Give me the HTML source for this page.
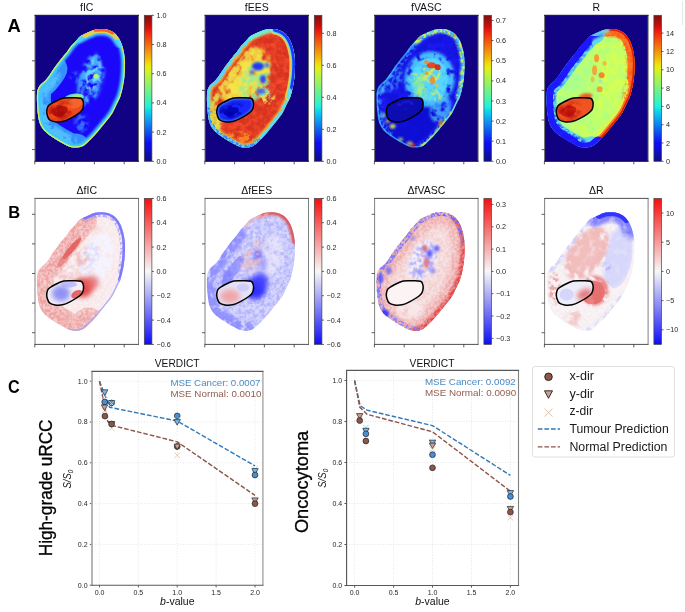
<!DOCTYPE html><html><head><meta charset="utf-8"><style>html,body{margin:0;padding:0;background:#fff;}svg{display:block;filter:blur(0.35px);}</style></head><body>
<svg width="685" height="612" viewBox="0 0 685 612" font-family='"Liberation Sans", sans-serif'>
<defs>
<path id="kid" d="M60.9,14.1 C63.6,13.7 68.0,13.6 70.7,14.0 C73.5,14.4 75.5,15.4 77.4,16.5 C79.3,17.6 80.7,18.9 82.0,20.5 C83.3,22.1 84.5,23.8 85.5,26.0 C86.5,28.2 87.6,31.2 88.3,34.0 C89.0,36.8 89.5,40.0 89.8,43.0 C90.1,46.0 90.1,48.8 90.0,52.0 C89.9,55.2 89.8,58.7 89.4,62.0 C89.0,65.3 88.5,68.8 87.8,72.0 C87.1,75.2 86.5,78.1 85.5,81.0 C84.5,83.9 82.8,86.7 81.5,89.5 C80.2,92.3 79.0,95.3 77.4,97.9 C75.8,100.5 73.8,102.8 71.9,105.2 C70.0,107.7 67.8,110.1 65.8,112.6 C63.8,115.0 61.8,117.7 59.7,119.9 C57.7,122.2 55.5,124.2 53.5,126.1 C51.5,127.9 49.6,130.0 47.5,131.0 C45.4,132.0 43.2,132.2 41.0,132.3 C38.8,132.4 36.7,132.1 34.5,131.4 C32.3,130.7 30.0,129.2 27.6,127.9 C25.2,126.6 22.6,125.1 20.2,123.6 C17.8,122.1 15.0,120.3 13.0,118.7 C11.0,117.1 9.4,115.8 8.0,113.8 C6.5,111.8 5.2,109.6 4.3,106.5 C3.4,103.4 2.9,98.9 2.5,95.0 C2.1,91.1 1.9,86.4 1.9,83.0 C1.9,79.6 2.0,76.8 2.6,74.5 C3.2,72.2 4.3,71.0 5.5,69.5 C6.7,68.0 8.6,67.0 10.0,65.5 C11.4,64.0 12.6,62.4 14.0,60.5 C15.4,58.6 17.0,55.9 18.4,53.9 C19.8,51.9 21.0,50.3 22.5,48.3 C24.0,46.3 26.0,43.7 27.6,41.7 C29.2,39.7 30.6,38.3 32.0,36.5 C33.4,34.7 34.6,32.5 36.0,30.8 C37.4,29.1 38.9,27.9 40.4,26.3 C41.9,24.7 43.4,22.5 45.0,21.2 C46.6,19.9 48.4,19.3 50.0,18.5 C51.6,17.7 52.7,17.2 54.5,16.5 C56.3,15.8 58.2,14.5 60.9,14.1Z"/>
<path id="roi" d="M11.7,96.0 C11.8,94.5 12.2,92.3 13.0,91.0 C13.8,89.7 14.8,89.2 16.6,88.1 C18.4,87.0 21.9,85.3 23.9,84.4 C25.9,83.5 26.8,82.9 28.8,82.6 C30.9,82.3 33.3,82.4 36.2,82.4 C39.1,82.5 44.0,82.1 46.0,82.9 C48.0,83.7 48.0,85.5 48.4,87.0 C48.8,88.5 48.5,90.6 48.2,92.0 C47.9,93.4 47.5,94.3 46.5,95.5 C45.5,96.7 44.2,97.8 42.3,99.1 C40.4,100.4 37.3,102.2 34.9,103.4 C32.5,104.6 30.1,105.8 27.6,106.3 C25.1,106.8 22.2,106.8 20.0,106.5 C17.8,106.2 15.8,105.6 14.5,104.5 C13.2,103.4 12.8,101.4 12.3,100.0 C11.8,98.6 11.6,97.5 11.7,96.0Z"/>
<clipPath id="kc"><use href="#kid"/></clipPath>
<clipPath id="rc"><use href="#roi"/></clipPath>
<clipPath id="hc"><rect x="0" y="0" width="103.5" height="146"/></clipPath>
<filter id="b0_8" x="-50%" y="-50%" width="200%" height="200%"><feGaussianBlur stdDeviation="0.8"/></filter>
<filter id="b1_2" x="-50%" y="-50%" width="200%" height="200%"><feGaussianBlur stdDeviation="1.2"/></filter>
<filter id="b1_8" x="-50%" y="-50%" width="200%" height="200%"><feGaussianBlur stdDeviation="1.8"/></filter>
<filter id="b2_5" x="-50%" y="-50%" width="200%" height="200%"><feGaussianBlur stdDeviation="2.5"/></filter>
<filter id="b3_5" x="-50%" y="-50%" width="200%" height="200%"><feGaussianBlur stdDeviation="3.5"/></filter>
<filter id="b5" x="-50%" y="-50%" width="200%" height="200%"><feGaussianBlur stdDeviation="5"/></filter>
<filter id="n1" x="-20%" y="-20%" width="140%" height="140%"><feGaussianBlur in="SourceGraphic" stdDeviation="1.5" result="b"/><feTurbulence type="fractalNoise" baseFrequency="0.12" numOctaves="3" seed="3" result="t"/><feColorMatrix in="t" type="matrix" values="0 0 0 0 0  0 0 0 0 0  0 0 0 0 0  5 0 0 0 -2.0" result="m"/><feComposite in="b" in2="m" operator="in"/></filter>
<filter id="n2" x="-20%" y="-20%" width="140%" height="140%"><feGaussianBlur in="SourceGraphic" stdDeviation="1.0" result="b"/><feTurbulence type="fractalNoise" baseFrequency="0.18" numOctaves="3" seed="7" result="t"/><feColorMatrix in="t" type="matrix" values="0 0 0 0 0  0 0 0 0 0  0 0 0 0 0  6 0 0 0 -2.6" result="m"/><feComposite in="b" in2="m" operator="in"/></filter>
<filter id="n3" x="-20%" y="-20%" width="140%" height="140%"><feGaussianBlur in="SourceGraphic" stdDeviation="2.0" result="b"/><feTurbulence type="fractalNoise" baseFrequency="0.14" numOctaves="3" seed="11" result="t"/><feColorMatrix in="t" type="matrix" values="0 0 0 0 0  0 0 0 0 0  0 0 0 0 0  5 0 0 0 -2.0" result="m"/><feComposite in="b" in2="m" operator="in"/></filter>
<filter id="n4" x="-20%" y="-20%" width="140%" height="140%"><feGaussianBlur in="SourceGraphic" stdDeviation="0.8" result="b"/><feTurbulence type="fractalNoise" baseFrequency="0.25" numOctaves="3" seed="5" result="t"/><feColorMatrix in="t" type="matrix" values="0 0 0 0 0  0 0 0 0 0  0 0 0 0 0  6 0 0 0 -2.6" result="m"/><feComposite in="b" in2="m" operator="in"/></filter>
<filter id="n5" x="-20%" y="-20%" width="140%" height="140%"><feGaussianBlur in="SourceGraphic" stdDeviation="0.6" result="b"/><feTurbulence type="fractalNoise" baseFrequency="0.35" numOctaves="3" seed="9" result="t"/><feColorMatrix in="t" type="matrix" values="0 0 0 0 0  0 0 0 0 0  0 0 0 0 0  5 0 0 0 -2.0" result="m"/><feComposite in="b" in2="m" operator="in"/></filter>
<filter id="n6" x="-20%" y="-20%" width="140%" height="140%"><feGaussianBlur in="SourceGraphic" stdDeviation="1.5" result="b"/><feTurbulence type="fractalNoise" baseFrequency="0.14" numOctaves="3" seed="13" result="t"/><feColorMatrix in="t" type="matrix" values="0 0 0 0 0  0 0 0 0 0  0 0 0 0 0  5 0 0 0 -1.5" result="m"/><feComposite in="b" in2="m" operator="in"/></filter>
<filter id="n7" x="-20%" y="-20%" width="140%" height="140%"><feGaussianBlur in="SourceGraphic" stdDeviation="1.0" result="b"/><feTurbulence type="fractalNoise" baseFrequency="0.22" numOctaves="3" seed="17" result="t"/><feColorMatrix in="t" type="matrix" values="0 0 0 0 0  0 0 0 0 0  0 0 0 0 0  5 0 0 0 -1.5" result="m"/><feComposite in="b" in2="m" operator="in"/></filter>
<linearGradient id="gjet" x1="0" y1="1" x2="0" y2="0">
<stop offset="0.000" stop-color="#0d0d80"/>
<stop offset="0.025" stop-color="#0d0d99"/>
<stop offset="0.050" stop-color="#0d0db3"/>
<stop offset="0.075" stop-color="#0d0dcd"/>
<stop offset="0.100" stop-color="#0d0de8"/>
<stop offset="0.125" stop-color="#0d0df2"/>
<stop offset="0.150" stop-color="#0d23f2"/>
<stop offset="0.175" stop-color="#0d3bf2"/>
<stop offset="0.200" stop-color="#0d52f2"/>
<stop offset="0.225" stop-color="#0d69f2"/>
<stop offset="0.250" stop-color="#0d80f2"/>
<stop offset="0.275" stop-color="#0d97f2"/>
<stop offset="0.300" stop-color="#0dadf2"/>
<stop offset="0.325" stop-color="#0dc4f2"/>
<stop offset="0.350" stop-color="#0ddbeb"/>
<stop offset="0.375" stop-color="#20f2d8"/>
<stop offset="0.400" stop-color="#32f2c6"/>
<stop offset="0.425" stop-color="#45f2b3"/>
<stop offset="0.450" stop-color="#57f2a1"/>
<stop offset="0.475" stop-color="#6af28e"/>
<stop offset="0.500" stop-color="#7cf27c"/>
<stop offset="0.525" stop-color="#8ef26a"/>
<stop offset="0.550" stop-color="#a1f257"/>
<stop offset="0.575" stop-color="#b3f245"/>
<stop offset="0.600" stop-color="#c6f232"/>
<stop offset="0.625" stop-color="#d8f220"/>
<stop offset="0.650" stop-color="#ebea0d"/>
<stop offset="0.675" stop-color="#f2d50d"/>
<stop offset="0.700" stop-color="#f2bf0d"/>
<stop offset="0.725" stop-color="#f2aa0d"/>
<stop offset="0.750" stop-color="#f2950d"/>
<stop offset="0.775" stop-color="#f2800d"/>
<stop offset="0.800" stop-color="#f26a0d"/>
<stop offset="0.825" stop-color="#f2550d"/>
<stop offset="0.850" stop-color="#f2400d"/>
<stop offset="0.875" stop-color="#f22a0d"/>
<stop offset="0.900" stop-color="#e8150d"/>
<stop offset="0.925" stop-color="#cd0d0d"/>
<stop offset="0.950" stop-color="#b30d0d"/>
<stop offset="0.975" stop-color="#990d0d"/>
<stop offset="1.000" stop-color="#800d0d"/>
</linearGradient>
<linearGradient id="gbwr" x1="0" y1="1" x2="0" y2="0">
<stop offset="0.000" stop-color="#0d0df7"/>
<stop offset="0.050" stop-color="#2525f7"/>
<stop offset="0.100" stop-color="#3c3cf7"/>
<stop offset="0.150" stop-color="#5353f7"/>
<stop offset="0.200" stop-color="#6b6bf7"/>
<stop offset="0.250" stop-color="#8383f7"/>
<stop offset="0.300" stop-color="#9a9af7"/>
<stop offset="0.350" stop-color="#b1b1f7"/>
<stop offset="0.400" stop-color="#c8c8f7"/>
<stop offset="0.450" stop-color="#e0e0f7"/>
<stop offset="0.500" stop-color="#f7f7f7"/>
<stop offset="0.550" stop-color="#f7dfdf"/>
<stop offset="0.600" stop-color="#f7c8c8"/>
<stop offset="0.650" stop-color="#f7b1b1"/>
<stop offset="0.700" stop-color="#f79a9a"/>
<stop offset="0.750" stop-color="#f78383"/>
<stop offset="0.800" stop-color="#f76b6b"/>
<stop offset="0.850" stop-color="#f75454"/>
<stop offset="0.900" stop-color="#f73c3c"/>
<stop offset="0.950" stop-color="#f72525"/>
<stop offset="1.000" stop-color="#f70d0d"/>
</linearGradient>
</defs>
<rect width="685" height="612" fill="#fff"/>
<g transform="translate(35,15.3)">
<g clip-path="url(#hc)">
<rect width="103.5" height="146" fill="#100282"/>
<g clip-path="url(#kc)">
<use href="#kid" fill="#1c08f8"/>
<path d="M41.0,132.3 C38.8,132.4 36.7,132.1 34.5,131.4 C32.3,130.7 30.0,129.2 27.6,127.9 C25.2,126.6 22.6,125.1 20.2,123.6 C17.8,122.1 15.0,120.3 13.0,118.7 C11.0,117.1 9.4,115.8 8.0,113.8 C6.5,111.8 5.2,109.6 4.3,106.5 C3.4,103.4 2.9,98.9 2.5,95.0 C2.1,91.1 1.9,86.4 1.9,83.0 C1.9,79.6 2.0,76.8 2.6,74.5 C3.2,72.2 4.3,71.0 5.5,69.5 C6.7,68.0 8.6,67.0 10.0,65.5 C11.4,64.0 12.6,62.4 14.0,60.5 C15.4,58.6 17.0,55.9 18.4,53.9" fill="none" stroke="#3aa8ff" stroke-width="28" stroke-linecap="round" opacity="0.85" filter="url(#b3)"/>
<path d="M34.5,131.4 C32.3,130.7 30.0,129.2 27.6,127.9 C25.2,126.6 22.6,125.1 20.2,123.6 C17.8,122.1 15.0,120.3 13.0,118.7 C11.0,117.1 9.4,115.8 8.0,113.8 C6.5,111.8 5.2,109.6 4.3,106.5 C3.4,103.4 2.9,98.9 2.5,95.0 C2.1,91.1 1.9,86.4 1.9,83.0 C1.9,79.6 2.0,76.8 2.6,74.5 C3.2,72.2 4.3,71.0 5.5,69.5 C6.7,68.0 8.6,67.0 10.0,65.5 C11.4,64.0 12.6,62.4 14.0,60.5" fill="none" stroke="#58c8ff" stroke-width="22" stroke-linecap="round" opacity="0.85" filter="url(#n6)"/>
<path d="M27.6,127.9 C25.2,126.6 22.6,125.1 20.2,123.6 C17.8,122.1 15.0,120.3 13.0,118.7 C11.0,117.1 9.4,115.8 8.0,113.8 C6.5,111.8 5.2,109.6 4.3,106.5 C3.4,103.4 2.9,98.9 2.5,95.0 C2.1,91.1 1.9,86.4 1.9,83.0 C1.9,79.6 2.0,76.8 2.6,74.5 C3.2,72.2 4.3,71.0 5.5,69.5 C6.7,68.0 8.6,67.0 10.0,65.5" fill="none" stroke="#60d8ff" stroke-width="10" stroke-linecap="round" opacity="0.7" filter="url(#b1_5)"/>
<use href="#kid" fill="none" stroke="#34b4ff" stroke-width="8" opacity="0.95" filter="url(#b1_2)"/>
<use href="#kid" fill="none" stroke="#60f0d0" stroke-width="4" opacity="0.8" filter="url(#b0_8)"/>
<use href="#kid" fill="none" stroke="#e8f040" stroke-width="2.2" opacity="0.9" filter="url(#b0_5)"/>
<path d="M45.0,21.2 C46.6,19.9 48.4,19.3 50.0,18.5 C51.6,17.7 52.7,17.2 54.5,16.5 C56.3,15.8 58.2,14.5 60.9,14.1 C63.6,13.7 68.0,13.6 70.7,14.0 C73.5,14.4 75.5,15.4 77.4,16.5 C79.3,17.6 80.7,18.9 82.0,20.5 C83.3,22.1 84.5,23.8 85.5,26.0" fill="none" stroke="#50d8ff" stroke-width="13" stroke-linecap="round" opacity="0.85" filter="url(#b1_2)"/>
<path d="M50.0,18.5 C51.6,17.7 52.7,17.2 54.5,16.5 C56.3,15.8 58.2,14.5 60.9,14.1 C63.6,13.7 68.0,13.6 70.7,14.0 C73.5,14.4 75.5,15.4 77.4,16.5 C79.3,17.6 80.7,18.9 82.0,20.5" fill="none" stroke="#f0d040" stroke-width="8" stroke-linecap="round" opacity="0.9" filter="url(#b1_0)"/>
<path d="M60.9,14.1 C63.6,13.7 68.0,13.6 70.7,14.0 C73.5,14.4 75.5,15.4 77.4,16.5" fill="none" stroke="#ff5018" stroke-width="5" stroke-linecap="round" opacity="0.85" filter="url(#b1_0)"/>
<ellipse cx="56" cy="64" rx="12" ry="27" fill="#44a8ff" opacity="1" filter="url(#n1)" transform="rotate(15 56 64)"/>
<ellipse cx="58" cy="60" rx="8" ry="18" fill="#68dcff" opacity="0.95" filter="url(#n2)" transform="rotate(15 58 60)"/>
<ellipse cx="42" cy="62" rx="6" ry="5" fill="#3a9cff" opacity="0.8" filter="url(#n3)" transform="rotate(0 42 62)"/>
<ellipse cx="61" cy="61" rx="2.5" ry="2.5" fill="#c0ff60" opacity="0.9" filter="url(#b1)" transform="rotate(0 61 61)"/>
<ellipse cx="46" cy="108" rx="6" ry="10" fill="#3890ff" opacity="0.8" filter="url(#n3)" transform="rotate(0 46 108)"/>
<ellipse cx="39" cy="82.5" rx="10" ry="4" fill="#60e8e0" opacity="0.95" filter="url(#b1_5)" transform="rotate(-8 39 82.5)"/>
<ellipse cx="42" cy="82" rx="5" ry="2.5" fill="#d0f050" opacity="0.9" filter="url(#b1_2)" transform="rotate(-8 42 82)"/>
</g>
<g clip-path="url(#rc)">
<use href="#roi" fill="#f04a1c"/>
<ellipse cx="40" cy="88" rx="8" ry="5" fill="#f86a30" opacity="0.8" filter="url(#b2)" transform="rotate(-20 40 88)"/>
<ellipse cx="25" cy="96" rx="12" ry="8" fill="#a80808" opacity="0.95" filter="url(#n3)" transform="rotate(-20 25 96)"/>
<ellipse cx="25" cy="96" rx="8" ry="5" fill="#a80808" opacity="0.8" filter="url(#b2)" transform="rotate(-20 25 96)"/>
</g>
</g>
<use href="#roi" fill="none" stroke="#000" stroke-width="1.5"/>
<line x1="0" y1="0" x2="0" y2="146" stroke="#6c6c68" stroke-width="1"/>
<line x1="103.5" y1="0" x2="103.5" y2="146" stroke="#6c6c68" stroke-width="1"/>
<line x1="-0.5" y1="0" x2="104.0" y2="0" stroke="#0a0630" stroke-width="1"/>
<line x1="-0.5" y1="146" x2="104.0" y2="146" stroke="#0a0630" stroke-width="1"/>
<line x1="-3" y1="15.9" x2="0" y2="15.9" stroke="#333" stroke-width="0.8"/>
<line x1="-3" y1="45.5" x2="0" y2="45.5" stroke="#333" stroke-width="0.8"/>
<line x1="-3" y1="75.1" x2="0" y2="75.1" stroke="#333" stroke-width="0.8"/>
<line x1="-3" y1="104.7" x2="0" y2="104.7" stroke="#333" stroke-width="0.8"/>
<line x1="-3" y1="134.3" x2="0" y2="134.3" stroke="#333" stroke-width="0.8"/>
<line x1="-0.2" y1="146" x2="-0.2" y2="149" stroke="#333" stroke-width="0.8"/>
<line x1="29.6" y1="146" x2="29.6" y2="149" stroke="#333" stroke-width="0.8"/>
<line x1="59.4" y1="146" x2="59.4" y2="149" stroke="#333" stroke-width="0.8"/>
<line x1="89.2" y1="146" x2="89.2" y2="149" stroke="#333" stroke-width="0.8"/>
<text x="51.75" y="-4.1" font-size="10.5" text-anchor="middle" fill="#111">fIC</text>
<rect x="109.3" y="0" width="7.6" height="146" fill="url(#gjet)" stroke="#444" stroke-width="0.7"/>
<line x1="116.89999999999999" y1="146.0" x2="118.89999999999999" y2="146.0" stroke="#333" stroke-width="0.8"/>
<text x="121.49999999999999" y="148.6" font-size="7.2" fill="#262626">0.0</text>
<line x1="116.89999999999999" y1="116.8" x2="118.89999999999999" y2="116.8" stroke="#333" stroke-width="0.8"/>
<text x="121.49999999999999" y="119.4" font-size="7.2" fill="#262626">0.2</text>
<line x1="116.89999999999999" y1="87.6" x2="118.89999999999999" y2="87.6" stroke="#333" stroke-width="0.8"/>
<text x="121.49999999999999" y="90.2" font-size="7.2" fill="#262626">0.4</text>
<line x1="116.89999999999999" y1="58.4" x2="118.89999999999999" y2="58.4" stroke="#333" stroke-width="0.8"/>
<text x="121.49999999999999" y="61.0" font-size="7.2" fill="#262626">0.6</text>
<line x1="116.89999999999999" y1="29.2" x2="118.89999999999999" y2="29.2" stroke="#333" stroke-width="0.8"/>
<text x="121.49999999999999" y="31.8" font-size="7.2" fill="#262626">0.8</text>
<line x1="116.89999999999999" y1="0.0" x2="118.89999999999999" y2="0.0" stroke="#333" stroke-width="0.8"/>
<text x="121.49999999999999" y="2.6" font-size="7.2" fill="#262626">1.0</text>
</g>
<g transform="translate(205,15.3)">
<g clip-path="url(#hc)">
<rect width="103.5" height="146" fill="#100282"/>
<g clip-path="url(#kc)">
<use href="#kid" fill="#e83c28"/>
<use href="#kid" fill="#f87030" opacity="0.3" filter="url(#n4)"/>
<use href="#kid" fill="#c02018" opacity="0.4" filter="url(#n3)"/>
<ellipse cx="38" cy="60" rx="22" ry="32" fill="#f2e64a" opacity="0.85" filter="url(#n6)" transform="rotate(35 38 60)"/>
<ellipse cx="44" cy="62" rx="19" ry="30" fill="#f2e64a" opacity="0.95" filter="url(#n1)" transform="rotate(30 44 62)"/>
<ellipse cx="44" cy="64" rx="12" ry="22" fill="#f2e64a" opacity="0.7" filter="url(#b4)" transform="rotate(30 44 64)"/>
<ellipse cx="20" cy="60" rx="8" ry="15" fill="#f2e04a" opacity="0.9" filter="url(#n3)" transform="rotate(35 20 60)"/>
<ellipse cx="12" cy="95" rx="7" ry="18" fill="#e0e850" opacity="0.85" filter="url(#n1)" transform="rotate(0 12 95)"/>
<ellipse cx="10" cy="104" rx="8" ry="16" fill="#e0e850" opacity="0.75" filter="url(#n6)" transform="rotate(0 10 104)"/>
<path d="M10.0,65.5 C11.4,64.0 12.6,62.4 14.0,60.5 C15.4,58.6 17.0,55.9 18.4,53.9 C19.8,51.9 21.0,50.3 22.5,48.3 C24.0,46.3 26.0,43.7 27.6,41.7 C29.2,39.7 30.6,38.3 32.0,36.5 C33.4,34.7 34.6,32.5 36.0,30.8 C37.4,29.1 38.9,27.9 40.4,26.3 C41.9,24.7 43.4,22.5 45.0,21.2 C46.6,19.9 48.4,19.3 50.0,18.5" fill="none" stroke="#e83c28" stroke-width="14" stroke-linecap="round" opacity="0.8" filter="url(#b1_5)"/>
<path d="M10.0,65.5 C11.4,64.0 12.6,62.4 14.0,60.5 C15.4,58.6 17.0,55.9 18.4,53.9 C19.8,51.9 21.0,50.3 22.5,48.3 C24.0,46.3 26.0,43.7 27.6,41.7 C29.2,39.7 30.6,38.3 32.0,36.5 C33.4,34.7 34.6,32.5 36.0,30.8 C37.4,29.1 38.9,27.9 40.4,26.3 C41.9,24.7 43.4,22.5 45.0,21.2 C46.6,19.9 48.4,19.3 50.0,18.5" fill="none" stroke="#d83020" stroke-width="16" stroke-linecap="round" opacity="0.5" filter="url(#n4)"/>
<ellipse cx="62" cy="82" rx="8" ry="7" fill="#f0ec50" opacity="0.9" filter="url(#n2)" transform="rotate(0 62 82)"/>
<ellipse cx="50" cy="66" rx="14" ry="22" fill="#7ef0b0" opacity="0.75" filter="url(#n2)" transform="rotate(25 50 66)"/>
<ellipse cx="60" cy="78" rx="6" ry="6" fill="#70f0e0" opacity="0.8" filter="url(#n4)" transform="rotate(0 60 78)"/>
<ellipse cx="53" cy="51" rx="6" ry="4" fill="#1830ff" opacity="0.95" filter="url(#b1_2)" transform="rotate(0 53 51)"/>
<ellipse cx="58" cy="64" rx="3" ry="4" fill="#2038ff" opacity="0.9" filter="url(#b1_2)" transform="rotate(0 58 64)"/>
<ellipse cx="56" cy="76" rx="4" ry="3" fill="#3060ff" opacity="0.8" filter="url(#b1_2)" transform="rotate(0 56 76)"/>
<ellipse cx="47" cy="57" rx="2.5" ry="2.5" fill="#3050ff" opacity="0.7" filter="url(#b1_2)" transform="rotate(0 47 57)"/>
<ellipse cx="62" cy="50" rx="2.5" ry="2.5" fill="#3050ff" opacity="0.7" filter="url(#b1_2)" transform="rotate(0 62 50)"/>
<ellipse cx="35" cy="122" rx="14" ry="6" fill="#ffa028" opacity="0.7" filter="url(#n2)" transform="rotate(0 35 122)"/>
<use href="#kid" fill="none" stroke="#f0e040" stroke-width="9" opacity="0.75" filter="url(#b0_8)"/>
<use href="#kid" fill="none" stroke="#50e0ff" stroke-width="7" opacity="0.9" filter="url(#n5)"/>
<use href="#kid" fill="none" stroke="#50e0ff" stroke-width="4" opacity="0.95" filter="url(#b0_6)"/>
<path d="M70.7,14.0 C73.5,14.4 75.5,15.4 77.4,16.5 C79.3,17.6 80.7,18.9 82.0,20.5 C83.3,22.1 84.5,23.8 85.5,26.0 C86.5,28.2 87.6,31.2 88.3,34.0 C89.0,36.8 89.5,40.0 89.8,43.0 C90.1,46.0 90.1,48.8 90.0,52.0 C89.9,55.2 89.8,58.7 89.4,62.0 C89.0,65.3 88.5,68.8 87.8,72.0 C87.1,75.2 86.5,78.1 85.5,81.0" fill="none" stroke="#f0e040" stroke-width="11" stroke-linecap="round" opacity="0.8" filter="url(#b0_7)"/>
<path d="M70.7,14.0 C73.5,14.4 75.5,15.4 77.4,16.5 C79.3,17.6 80.7,18.9 82.0,20.5 C83.3,22.1 84.5,23.8 85.5,26.0 C86.5,28.2 87.6,31.2 88.3,34.0 C89.0,36.8 89.5,40.0 89.8,43.0 C90.1,46.0 90.1,48.8 90.0,52.0 C89.9,55.2 89.8,58.7 89.4,62.0 C89.0,65.3 88.5,68.8 87.8,72.0 C87.1,75.2 86.5,78.1 85.5,81.0" fill="none" stroke="#50e0ff" stroke-width="8" stroke-linecap="round" opacity="0.9" filter="url(#b0_6)"/>
<path d="M70.7,14.0 C73.5,14.4 75.5,15.4 77.4,16.5 C79.3,17.6 80.7,18.9 82.0,20.5 C83.3,22.1 84.5,23.8 85.5,26.0 C86.5,28.2 87.6,31.2 88.3,34.0 C89.0,36.8 89.5,40.0 89.8,43.0 C90.1,46.0 90.1,48.8 90.0,52.0 C89.9,55.2 89.8,58.7 89.4,62.0 C89.0,65.3 88.5,68.8 87.8,72.0" fill="none" stroke="#1830ff" stroke-width="5.5" stroke-linecap="round" opacity="0.95" filter="url(#b0_6)"/>
<path d="M45.0,21.2 C46.6,19.9 48.4,19.3 50.0,18.5 C51.6,17.7 52.7,17.2 54.5,16.5 C56.3,15.8 58.2,14.5 60.9,14.1" fill="none" stroke="#70f0d0" stroke-width="8" stroke-linecap="round" opacity="0.8" filter="url(#b1_2)"/>
<path d="M53.5,126.1 C51.5,127.9 49.6,130.0 47.5,131.0 C45.4,132.0 43.2,132.2 41.0,132.3 C38.8,132.4 36.7,132.1 34.5,131.4 C32.3,130.7 30.0,129.2 27.6,127.9 C25.2,126.6 22.6,125.1 20.2,123.6 C17.8,122.1 15.0,120.3 13.0,118.7 C11.0,117.1 9.4,115.8 8.0,113.8 C6.5,111.8 5.2,109.6 4.3,106.5 C3.4,103.4 2.9,98.9 2.5,95.0" fill="none" stroke="#3070ff" stroke-width="6" stroke-linecap="round" opacity="0.8" filter="url(#n5)"/>
<path d="M1.9,83.0 C1.9,79.6 2.0,76.8 2.6,74.5 C3.2,72.2 4.3,71.0 5.5,69.5 C6.7,68.0 8.6,67.0 10.0,65.5 C11.4,64.0 12.6,62.4 14.0,60.5 C15.4,58.6 17.0,55.9 18.4,53.9 C19.8,51.9 21.0,50.3 22.5,48.3 C24.0,46.3 26.0,43.7 27.6,41.7 C29.2,39.7 30.6,38.3 32.0,36.5" fill="none" stroke="#60d0ff" stroke-width="6" stroke-linecap="round" opacity="0.8" filter="url(#n5)"/>
</g>
<g clip-path="url(#rc)">
<use href="#roi" fill="#1a28ff"/>
<ellipse cx="26" cy="96" rx="13" ry="7" fill="#0000a8" opacity="0.95" filter="url(#n3)" transform="rotate(-15 26 96)"/>
<ellipse cx="26" cy="96" rx="8" ry="4" fill="#0000a8" opacity="0.8" filter="url(#b2)" transform="rotate(-15 26 96)"/>
<use href="#roi" fill="none" stroke="#50d0ff" stroke-width="3" opacity="0.6" filter="url(#b0_8)"/>
</g>
</g>
<use href="#roi" fill="none" stroke="#000" stroke-width="1.5"/>
<line x1="0" y1="0" x2="0" y2="146" stroke="#6c6c68" stroke-width="1"/>
<line x1="103.5" y1="0" x2="103.5" y2="146" stroke="#6c6c68" stroke-width="1"/>
<line x1="-0.5" y1="0" x2="104.0" y2="0" stroke="#0a0630" stroke-width="1"/>
<line x1="-0.5" y1="146" x2="104.0" y2="146" stroke="#0a0630" stroke-width="1"/>
<line x1="-3" y1="15.9" x2="0" y2="15.9" stroke="#333" stroke-width="0.8"/>
<line x1="-3" y1="45.5" x2="0" y2="45.5" stroke="#333" stroke-width="0.8"/>
<line x1="-3" y1="75.1" x2="0" y2="75.1" stroke="#333" stroke-width="0.8"/>
<line x1="-3" y1="104.7" x2="0" y2="104.7" stroke="#333" stroke-width="0.8"/>
<line x1="-3" y1="134.3" x2="0" y2="134.3" stroke="#333" stroke-width="0.8"/>
<line x1="-0.2" y1="146" x2="-0.2" y2="149" stroke="#333" stroke-width="0.8"/>
<line x1="29.6" y1="146" x2="29.6" y2="149" stroke="#333" stroke-width="0.8"/>
<line x1="59.4" y1="146" x2="59.4" y2="149" stroke="#333" stroke-width="0.8"/>
<line x1="89.2" y1="146" x2="89.2" y2="149" stroke="#333" stroke-width="0.8"/>
<text x="51.75" y="-4.1" font-size="10.5" text-anchor="middle" fill="#111">fEES</text>
<rect x="109.3" y="0" width="7.6" height="146" fill="url(#gjet)" stroke="#444" stroke-width="0.7"/>
<line x1="116.89999999999999" y1="146.0" x2="118.89999999999999" y2="146.0" stroke="#333" stroke-width="0.8"/>
<text x="121.49999999999999" y="148.6" font-size="7.2" fill="#262626">0.0</text>
<line x1="116.89999999999999" y1="114.0" x2="118.89999999999999" y2="114.0" stroke="#333" stroke-width="0.8"/>
<text x="121.49999999999999" y="116.6" font-size="7.2" fill="#262626">0.2</text>
<line x1="116.89999999999999" y1="82.0" x2="118.89999999999999" y2="82.0" stroke="#333" stroke-width="0.8"/>
<text x="121.49999999999999" y="84.6" font-size="7.2" fill="#262626">0.4</text>
<line x1="116.89999999999999" y1="50.0" x2="118.89999999999999" y2="50.0" stroke="#333" stroke-width="0.8"/>
<text x="121.49999999999999" y="52.6" font-size="7.2" fill="#262626">0.6</text>
<line x1="116.89999999999999" y1="18.0" x2="118.89999999999999" y2="18.0" stroke="#333" stroke-width="0.8"/>
<text x="121.49999999999999" y="20.6" font-size="7.2" fill="#262626">0.8</text>
</g>
<g transform="translate(374.6,15.3)">
<g clip-path="url(#hc)">
<rect width="103.5" height="146" fill="#100282"/>
<g clip-path="url(#kc)">
<use href="#kid" fill="#1a18f0"/>
<ellipse cx="36" cy="112" rx="28" ry="16" fill="#0c0cd0" opacity="0.7" filter="url(#b4)" transform="rotate(-30 36 112)"/>
<use href="#kid" fill="#0a0ac0" opacity="0.4" filter="url(#n3)"/>
<ellipse cx="55" cy="64" rx="18" ry="21" fill="#50d0ff" opacity="0.85" filter="url(#b4)" transform="rotate(0 55 64)"/>
<ellipse cx="55" cy="64" rx="25" ry="28" fill="#48c8ff" opacity="0.95" filter="url(#n6)" transform="rotate(10 55 64)"/>
<ellipse cx="55" cy="64" rx="18" ry="22" fill="#58d8ff" opacity="0.95" filter="url(#n7)" transform="rotate(10 55 64)"/>
<ellipse cx="50" cy="70" rx="12" ry="14" fill="#a0f080" opacity="0.7" filter="url(#n1)" transform="rotate(0 50 70)"/>
<ellipse cx="66" cy="94" rx="10" ry="14" fill="#48c0ff" opacity="0.8" filter="url(#n6)" transform="rotate(20 66 94)"/>
<ellipse cx="18" cy="64" rx="9" ry="14" fill="#40b0ff" opacity="0.6" filter="url(#n4)" transform="rotate(30 18 64)"/>
<ellipse cx="56" cy="58" rx="10" ry="10" fill="#d8f050" opacity="0.85" filter="url(#n2)" transform="rotate(0 56 58)"/>
<ellipse cx="40" cy="62" rx="6" ry="5" fill="#c0f060" opacity="0.7" filter="url(#n4)" transform="rotate(0 40 62)"/>
<ellipse cx="62" cy="80" rx="6" ry="6" fill="#c8f060" opacity="0.75" filter="url(#n4)" transform="rotate(0 62 80)"/>
<ellipse cx="46" cy="74" rx="5" ry="5" fill="#b0f070" opacity="0.6" filter="url(#n4)" transform="rotate(0 46 74)"/>
<ellipse cx="57" cy="50" rx="5" ry="3" fill="#f04018" opacity="0.95" filter="url(#b1_0)" transform="rotate(0 57 50)"/>
<ellipse cx="63" cy="52" rx="3" ry="3" fill="#e02010" opacity="0.9" filter="url(#b1_0)" transform="rotate(0 63 52)"/>
<ellipse cx="52" cy="47" rx="2.5" ry="2" fill="#ff8020" opacity="0.8" filter="url(#b1_0)" transform="rotate(0 52 47)"/>
<ellipse cx="58" cy="65" rx="2.5" ry="4" fill="#ff8020" opacity="0.8" filter="url(#b1_0)" transform="rotate(0 58 65)"/>
<ellipse cx="52" cy="58" rx="2" ry="2" fill="#ff8020" opacity="0.7" filter="url(#b1_0)" transform="rotate(0 52 58)"/>
<ellipse cx="62" cy="70" rx="2" ry="2" fill="#f0c030" opacity="0.8" filter="url(#b1_0)" transform="rotate(0 62 70)"/>
<use href="#kid" fill="none" stroke="#40c0ff" stroke-width="3" opacity="0.7" filter="url(#b0_6)"/>
<path d="M40.4,26.3 C41.9,24.7 43.4,22.5 45.0,21.2 C46.6,19.9 48.4,19.3 50.0,18.5 C51.6,17.7 52.7,17.2 54.5,16.5 C56.3,15.8 58.2,14.5 60.9,14.1 C63.6,13.7 68.0,13.6 70.7,14.0 C73.5,14.4 75.5,15.4 77.4,16.5 C79.3,17.6 80.7,18.9 82.0,20.5 C83.3,22.1 84.5,23.8 85.5,26.0 C86.5,28.2 87.6,31.2 88.3,34.0 C89.0,36.8 89.5,40.0 89.8,43.0 C90.1,46.0 90.1,48.8 90.0,52.0 C89.9,55.2 89.8,58.7 89.4,62.0 C89.0,65.3 88.5,68.8 87.8,72.0 C87.1,75.2 86.5,78.1 85.5,81.0" fill="none" stroke="#50d8ff" stroke-width="8" stroke-linecap="round" opacity="0.8" filter="url(#b0_8)"/>
<path d="M40.4,26.3 C41.9,24.7 43.4,22.5 45.0,21.2 C46.6,19.9 48.4,19.3 50.0,18.5 C51.6,17.7 52.7,17.2 54.5,16.5 C56.3,15.8 58.2,14.5 60.9,14.1 C63.6,13.7 68.0,13.6 70.7,14.0 C73.5,14.4 75.5,15.4 77.4,16.5 C79.3,17.6 80.7,18.9 82.0,20.5 C83.3,22.1 84.5,23.8 85.5,26.0 C86.5,28.2 87.6,31.2 88.3,34.0 C89.0,36.8 89.5,40.0 89.8,43.0 C90.1,46.0 90.1,48.8 90.0,52.0 C89.9,55.2 89.8,58.7 89.4,62.0 C89.0,65.3 88.5,68.8 87.8,72.0 C87.1,75.2 86.5,78.1 85.5,81.0" fill="none" stroke="#d8f048" stroke-width="8" stroke-linecap="round" opacity="0.95" filter="url(#n4)"/>
<path d="M85.5,81.0 C84.5,83.9 82.8,86.7 81.5,89.5 C80.2,92.3 79.0,95.3 77.4,97.9 C75.8,100.5 73.8,102.8 71.9,105.2 C70.0,107.7 67.8,110.1 65.8,112.6 C63.8,115.0 61.8,117.7 59.7,119.9 C57.7,122.2 55.5,124.2 53.5,126.1 C51.5,127.9 49.6,130.0 47.5,131.0" fill="none" stroke="#80e8d0" stroke-width="3" stroke-linecap="round" opacity="0.8" filter="url(#b0_6)"/>
<path d="M13.0,118.7 C11.0,117.1 9.4,115.8 8.0,113.8 C6.5,111.8 5.2,109.6 4.3,106.5 C3.4,103.4 2.9,98.9 2.5,95.0 C2.1,91.1 1.9,86.4 1.9,83.0 C1.9,79.6 2.0,76.8 2.6,74.5 C3.2,72.2 4.3,71.0 5.5,69.5 C6.7,68.0 8.6,67.0 10.0,65.5 C11.4,64.0 12.6,62.4 14.0,60.5 C15.4,58.6 17.0,55.9 18.4,53.9 C19.8,51.9 21.0,50.3 22.5,48.3 C24.0,46.3 26.0,43.7 27.6,41.7 C29.2,39.7 30.6,38.3 32.0,36.5 C33.4,34.7 34.6,32.5 36.0,30.8" fill="none" stroke="#40b8ff" stroke-width="10" stroke-linecap="round" opacity="0.6" filter="url(#n4)"/>
<path d="M77.4,97.9 C75.8,100.5 73.8,102.8 71.9,105.2 C70.0,107.7 67.8,110.1 65.8,112.6 C63.8,115.0 61.8,117.7 59.7,119.9 C57.7,122.2 55.5,124.2 53.5,126.1 C51.5,127.9 49.6,130.0 47.5,131.0" fill="none" stroke="#b0f060" stroke-width="5" stroke-linecap="round" opacity="0.9" filter="url(#n4)"/>
<ellipse cx="38" cy="130" rx="2.5" ry="2" fill="#e02010" opacity="0.95" filter="url(#b0_8)" transform="rotate(0 38 130)"/>
<ellipse cx="35" cy="128" rx="3" ry="2" fill="#f0e040" opacity="0.7" filter="url(#b0_8)" transform="rotate(0 35 128)"/>
<ellipse cx="18" cy="111" rx="3" ry="2.5" fill="#e0f040" opacity="0.85" filter="url(#b0_8)" transform="rotate(0 18 111)"/>
<ellipse cx="13" cy="106" rx="2" ry="2" fill="#f0d040" opacity="0.7" filter="url(#b0_8)" transform="rotate(0 13 106)"/>
<ellipse cx="9" cy="100" rx="2" ry="3" fill="#80f0b0" opacity="0.7" filter="url(#b0_8)" transform="rotate(0 9 100)"/>
<ellipse cx="66" cy="108" rx="2" ry="3" fill="#f08020" opacity="0.8" filter="url(#b0_8)" transform="rotate(0 66 108)"/>
<ellipse cx="8" cy="75" rx="2.5" ry="3" fill="#60e0ff" opacity="0.7" filter="url(#b0_8)" transform="rotate(0 8 75)"/>
<ellipse cx="44" cy="22" rx="2" ry="1.5" fill="#f08020" opacity="0.7" filter="url(#b0_8)" transform="rotate(0 44 22)"/>
<ellipse cx="80" cy="20" rx="2" ry="2" fill="#f08020" opacity="0.6" filter="url(#b0_8)" transform="rotate(0 80 20)"/>
<ellipse cx="26" cy="124" rx="2.5" ry="2" fill="#c0f060" opacity="0.7" filter="url(#b0_8)" transform="rotate(0 26 124)"/>
</g>
<g clip-path="url(#rc)">
<use href="#roi" fill="#0c0cb0"/>
<ellipse cx="30" cy="90" rx="10" ry="4" fill="#2424e8" opacity="0.8" filter="url(#n2)" transform="rotate(-10 30 90)"/>
</g>
</g>
<use href="#roi" fill="none" stroke="#000" stroke-width="1.5"/>
<line x1="0" y1="0" x2="0" y2="146" stroke="#6c6c68" stroke-width="1"/>
<line x1="103.5" y1="0" x2="103.5" y2="146" stroke="#6c6c68" stroke-width="1"/>
<line x1="-0.5" y1="0" x2="104.0" y2="0" stroke="#0a0630" stroke-width="1"/>
<line x1="-0.5" y1="146" x2="104.0" y2="146" stroke="#0a0630" stroke-width="1"/>
<line x1="-3" y1="15.9" x2="0" y2="15.9" stroke="#333" stroke-width="0.8"/>
<line x1="-3" y1="45.5" x2="0" y2="45.5" stroke="#333" stroke-width="0.8"/>
<line x1="-3" y1="75.1" x2="0" y2="75.1" stroke="#333" stroke-width="0.8"/>
<line x1="-3" y1="104.7" x2="0" y2="104.7" stroke="#333" stroke-width="0.8"/>
<line x1="-3" y1="134.3" x2="0" y2="134.3" stroke="#333" stroke-width="0.8"/>
<line x1="-0.2" y1="146" x2="-0.2" y2="149" stroke="#333" stroke-width="0.8"/>
<line x1="29.6" y1="146" x2="29.6" y2="149" stroke="#333" stroke-width="0.8"/>
<line x1="59.4" y1="146" x2="59.4" y2="149" stroke="#333" stroke-width="0.8"/>
<line x1="89.2" y1="146" x2="89.2" y2="149" stroke="#333" stroke-width="0.8"/>
<text x="51.75" y="-4.1" font-size="10.5" text-anchor="middle" fill="#111">fVASC</text>
<rect x="109.3" y="0" width="7.6" height="146" fill="url(#gjet)" stroke="#444" stroke-width="0.7"/>
<line x1="116.89999999999999" y1="146.0" x2="118.89999999999999" y2="146.0" stroke="#333" stroke-width="0.8"/>
<text x="121.49999999999999" y="148.6" font-size="7.2" fill="#262626">0.0</text>
<line x1="116.89999999999999" y1="125.9" x2="118.89999999999999" y2="125.9" stroke="#333" stroke-width="0.8"/>
<text x="121.49999999999999" y="128.5" font-size="7.2" fill="#262626">0.1</text>
<line x1="116.89999999999999" y1="105.8" x2="118.89999999999999" y2="105.8" stroke="#333" stroke-width="0.8"/>
<text x="121.49999999999999" y="108.4" font-size="7.2" fill="#262626">0.2</text>
<line x1="116.89999999999999" y1="85.7" x2="118.89999999999999" y2="85.7" stroke="#333" stroke-width="0.8"/>
<text x="121.49999999999999" y="88.3" font-size="7.2" fill="#262626">0.3</text>
<line x1="116.89999999999999" y1="65.6" x2="118.89999999999999" y2="65.6" stroke="#333" stroke-width="0.8"/>
<text x="121.49999999999999" y="68.2" font-size="7.2" fill="#262626">0.4</text>
<line x1="116.89999999999999" y1="45.4" x2="118.89999999999999" y2="45.4" stroke="#333" stroke-width="0.8"/>
<text x="121.49999999999999" y="48.0" font-size="7.2" fill="#262626">0.5</text>
<line x1="116.89999999999999" y1="25.3" x2="118.89999999999999" y2="25.3" stroke="#333" stroke-width="0.8"/>
<text x="121.49999999999999" y="27.9" font-size="7.2" fill="#262626">0.6</text>
<line x1="116.89999999999999" y1="5.2" x2="118.89999999999999" y2="5.2" stroke="#333" stroke-width="0.8"/>
<text x="121.49999999999999" y="7.8" font-size="7.2" fill="#262626">0.7</text>
</g>
<g transform="translate(544.6,15.3)">
<g clip-path="url(#hc)">
<rect width="103.5" height="146" fill="#100282"/>
<g clip-path="url(#kc)">
<use href="#kid" fill="#c0ff6c"/>
<ellipse cx="28" cy="85" rx="16" ry="40" fill="#a0ffa0" opacity="0.7" filter="url(#b5)" transform="rotate(25 28 85)"/>
<ellipse cx="68" cy="62" rx="13" ry="38" fill="#e0ff4c" opacity="0.55" filter="url(#b6)" transform="rotate(15 68 62)"/>
<use href="#kid" fill="#98ffa0" opacity="0.4" filter="url(#n3)"/>
<use href="#kid" fill="#dcff48" opacity="0.4" filter="url(#n1)"/>
<path d="M60.9,14.1 C63.6,13.7 68.0,13.6 70.7,14.0 C73.5,14.4 75.5,15.4 77.4,16.5 C79.3,17.6 80.7,18.9 82.0,20.5 C83.3,22.1 84.5,23.8 85.5,26.0 C86.5,28.2 87.6,31.2 88.3,34.0 C89.0,36.8 89.5,40.0 89.8,43.0 C90.1,46.0 90.1,48.8 90.0,52.0 C89.9,55.2 89.8,58.7 89.4,62.0 C89.0,65.3 88.5,68.8 87.8,72.0 C87.1,75.2 86.5,78.1 85.5,81.0 C84.5,83.9 82.8,86.7 81.5,89.5 C80.2,92.3 79.0,95.3 77.4,97.9 C75.8,100.5 73.8,102.8 71.9,105.2 C70.0,107.7 67.8,110.1 65.8,112.6 C63.8,115.0 61.8,117.7 59.7,119.9 C57.7,122.2 55.5,124.2 53.5,126.1" fill="none" stroke="#f0f040" stroke-width="14" stroke-linecap="round" opacity="0.5" filter="url(#b2)"/>
<path d="M60.9,14.1 C63.6,13.7 68.0,13.6 70.7,14.0 C73.5,14.4 75.5,15.4 77.4,16.5 C79.3,17.6 80.7,18.9 82.0,20.5 C83.3,22.1 84.5,23.8 85.5,26.0 C86.5,28.2 87.6,31.2 88.3,34.0 C89.0,36.8 89.5,40.0 89.8,43.0 C90.1,46.0 90.1,48.8 90.0,52.0 C89.9,55.2 89.8,58.7 89.4,62.0" fill="none" stroke="#ff7020" stroke-width="14" stroke-linecap="round" opacity="0.95" filter="url(#b1_3)"/>
<path d="M90.0,52.0 C89.9,55.2 89.8,58.7 89.4,62.0 C89.0,65.3 88.5,68.8 87.8,72.0 C87.1,75.2 86.5,78.1 85.5,81.0 C84.5,83.9 82.8,86.7 81.5,89.5 C80.2,92.3 79.0,95.3 77.4,97.9 C75.8,100.5 73.8,102.8 71.9,105.2 C70.0,107.7 67.8,110.1 65.8,112.6 C63.8,115.0 61.8,117.7 59.7,119.9 C57.7,122.2 55.5,124.2 53.5,126.1" fill="none" stroke="#ff7020" stroke-width="7" stroke-linecap="round" opacity="0.95" filter="url(#b1_0)"/>
<path d="M60.9,14.1 C63.6,13.7 68.0,13.6 70.7,14.0 C73.5,14.4 75.5,15.4 77.4,16.5 C79.3,17.6 80.7,18.9 82.0,20.5 C83.3,22.1 84.5,23.8 85.5,26.0 C86.5,28.2 87.6,31.2 88.3,34.0 C89.0,36.8 89.5,40.0 89.8,43.0 C90.1,46.0 90.1,48.8 90.0,52.0 C89.9,55.2 89.8,58.7 89.4,62.0 C89.0,65.3 88.5,68.8 87.8,72.0 C87.1,75.2 86.5,78.1 85.5,81.0" fill="none" stroke="#ff5018" stroke-width="16" stroke-linecap="round" opacity="0.6" filter="url(#n4)"/>
<path d="M60.9,14.1 C63.6,13.7 68.0,13.6 70.7,14.0 C73.5,14.4 75.5,15.4 77.4,16.5 C79.3,17.6 80.7,18.9 82.0,20.5 C83.3,22.1 84.5,23.8 85.5,26.0 C86.5,28.2 87.6,31.2 88.3,34.0 C89.0,36.8 89.5,40.0 89.8,43.0 C90.1,46.0 90.1,48.8 90.0,52.0 C89.9,55.2 89.8,58.7 89.4,62.0 C89.0,65.3 88.5,68.8 87.8,72.0 C87.1,75.2 86.5,78.1 85.5,81.0 C84.5,83.9 82.8,86.7 81.5,89.5 C80.2,92.3 79.0,95.3 77.4,97.9 C75.8,100.5 73.8,102.8 71.9,105.2 C70.0,107.7 67.8,110.1 65.8,112.6 C63.8,115.0 61.8,117.7 59.7,119.9 C57.7,122.2 55.5,124.2 53.5,126.1" fill="none" stroke="#e01808" stroke-width="3.5" stroke-linecap="round" opacity="0.95" filter="url(#b0_7)"/>
<path d="M47.5,131.0 C45.4,132.0 43.2,132.2 41.0,132.3 C38.8,132.4 36.7,132.1 34.5,131.4 C32.3,130.7 30.0,129.2 27.6,127.9 C25.2,126.6 22.6,125.1 20.2,123.6 C17.8,122.1 15.0,120.3 13.0,118.7 C11.0,117.1 9.4,115.8 8.0,113.8 C6.5,111.8 5.2,109.6 4.3,106.5 C3.4,103.4 2.9,98.9 2.5,95.0 C2.1,91.1 1.9,86.4 1.9,83.0 C1.9,79.6 2.0,76.8 2.6,74.5 C3.2,72.2 4.3,71.0 5.5,69.5 C6.7,68.0 8.6,67.0 10.0,65.5 C11.4,64.0 12.6,62.4 14.0,60.5 C15.4,58.6 17.0,55.9 18.4,53.9 C19.8,51.9 21.0,50.3 22.5,48.3 C24.0,46.3 26.0,43.7 27.6,41.7 C29.2,39.7 30.6,38.3 32.0,36.5 C33.4,34.7 34.6,32.5 36.0,30.8 C37.4,29.1 38.9,27.9 40.4,26.3 C41.9,24.7 43.4,22.5 45.0,21.2 C46.6,19.9 48.4,19.3 50.0,18.5" fill="none" stroke="#50d0ff" stroke-width="20" stroke-linecap="round" opacity="0.85" filter="url(#b1_5)"/>
<path d="M34.5,131.4 C32.3,130.7 30.0,129.2 27.6,127.9 C25.2,126.6 22.6,125.1 20.2,123.6 C17.8,122.1 15.0,120.3 13.0,118.7 C11.0,117.1 9.4,115.8 8.0,113.8 C6.5,111.8 5.2,109.6 4.3,106.5 C3.4,103.4 2.9,98.9 2.5,95.0 C2.1,91.1 1.9,86.4 1.9,83.0 C1.9,79.6 2.0,76.8 2.6,74.5 C3.2,72.2 4.3,71.0 5.5,69.5 C6.7,68.0 8.6,67.0 10.0,65.5 C11.4,64.0 12.6,62.4 14.0,60.5 C15.4,58.6 17.0,55.9 18.4,53.9 C19.8,51.9 21.0,50.3 22.5,48.3 C24.0,46.3 26.0,43.7 27.6,41.7 C29.2,39.7 30.6,38.3 32.0,36.5 C33.4,34.7 34.6,32.5 36.0,30.8 C37.4,29.1 38.9,27.9 40.4,26.3" fill="none" stroke="#1c14ff" stroke-width="17" stroke-linecap="round" opacity="0.7" filter="url(#n4)"/>
<path d="M27.6,127.9 C25.2,126.6 22.6,125.1 20.2,123.6 C17.8,122.1 15.0,120.3 13.0,118.7 C11.0,117.1 9.4,115.8 8.0,113.8 C6.5,111.8 5.2,109.6 4.3,106.5 C3.4,103.4 2.9,98.9 2.5,95.0 C2.1,91.1 1.9,86.4 1.9,83.0 C1.9,79.6 2.0,76.8 2.6,74.5 C3.2,72.2 4.3,71.0 5.5,69.5 C6.7,68.0 8.6,67.0 10.0,65.5 C11.4,64.0 12.6,62.4 14.0,60.5 C15.4,58.6 17.0,55.9 18.4,53.9 C19.8,51.9 21.0,50.3 22.5,48.3 C24.0,46.3 26.0,43.7 27.6,41.7 C29.2,39.7 30.6,38.3 32.0,36.5 C33.4,34.7 34.6,32.5 36.0,30.8 C37.4,29.1 38.9,27.9 40.4,26.3" fill="none" stroke="#1c14ff" stroke-width="13" stroke-linecap="round" opacity="0.97" filter="url(#b0_9)"/>
<path d="M53.5,126.1 C51.5,127.9 49.6,130.0 47.5,131.0 C45.4,132.0 43.2,132.2 41.0,132.3 C38.8,132.4 36.7,132.1 34.5,131.4 C32.3,130.7 30.0,129.2 27.6,127.9 C25.2,126.6 22.6,125.1 20.2,123.6" fill="none" stroke="#1c14ff" stroke-width="10" stroke-linecap="round" opacity="0.97" filter="url(#b0_9)"/>
<path d="M32.0,36.5 C33.4,34.7 34.6,32.5 36.0,30.8 C37.4,29.1 38.9,27.9 40.4,26.3 C41.9,24.7 43.4,22.5 45.0,21.2 C46.6,19.9 48.4,19.3 50.0,18.5 C51.6,17.7 52.7,17.2 54.5,16.5" fill="none" stroke="#1c14ff" stroke-width="9" stroke-linecap="round" opacity="0.97" filter="url(#b0_8)"/>
<path d="M27.6,127.9 C25.2,126.6 22.6,125.1 20.2,123.6 C17.8,122.1 15.0,120.3 13.0,118.7 C11.0,117.1 9.4,115.8 8.0,113.8 C6.5,111.8 5.2,109.6 4.3,106.5 C3.4,103.4 2.9,98.9 2.5,95.0 C2.1,91.1 1.9,86.4 1.9,83.0 C1.9,79.6 2.0,76.8 2.6,74.5" fill="none" stroke="#2028ff" stroke-width="14" stroke-linecap="round" opacity="0.6" filter="url(#n4)"/>
<path d="M50.0,18.5 C51.6,17.7 52.7,17.2 54.5,16.5 C56.3,15.8 58.2,14.5 60.9,14.1" fill="none" stroke="#70f0e0" stroke-width="8" stroke-linecap="round" opacity="0.8" filter="url(#b1_2)"/>
<ellipse cx="52" cy="43" rx="2.5" ry="4" fill="#ff8a30" opacity="0.85" filter="url(#b1_0)" transform="rotate(0 52 43)"/>
<ellipse cx="50" cy="55" rx="2.5" ry="5" fill="#ff9030" opacity="0.8" filter="url(#b1_0)" transform="rotate(0 50 55)"/>
<ellipse cx="57" cy="60" rx="3" ry="3" fill="#ff7020" opacity="0.85" filter="url(#b1_0)" transform="rotate(0 57 60)"/>
<ellipse cx="55" cy="74" rx="3" ry="3" fill="#ff8a30" opacity="0.8" filter="url(#b1_0)" transform="rotate(0 55 74)"/>
<ellipse cx="60" cy="48" rx="2" ry="2.5" fill="#ff9030" opacity="0.6" filter="url(#b1_0)" transform="rotate(0 60 48)"/>
<ellipse cx="48" cy="64" rx="2" ry="3" fill="#ffa040" opacity="0.6" filter="url(#b1_0)" transform="rotate(0 48 64)"/>
<ellipse cx="56" cy="66" rx="2" ry="2" fill="#80e0ff" opacity="0.6" filter="url(#b1_0)" transform="rotate(0 56 66)"/>
</g>
<g clip-path="url(#rc)">
<use href="#roi" fill="#f05422"/>
<ellipse cx="24" cy="96" rx="12" ry="8" fill="#b80c08" opacity="0.9" filter="url(#n3)" transform="rotate(-20 24 96)"/>
<ellipse cx="24" cy="96" rx="8" ry="5" fill="#b80c08" opacity="0.7" filter="url(#b2)" transform="rotate(-20 24 96)"/>
</g>
<g clip-path="url(#kc)">
<ellipse cx="41" cy="81" rx="7" ry="3" fill="#f04020" opacity="0.85" filter="url(#b1_2)" transform="rotate(-8 41 81)"/>
</g>
</g>
<use href="#roi" fill="none" stroke="#000" stroke-width="1.5"/>
<line x1="0" y1="0" x2="0" y2="146" stroke="#6c6c68" stroke-width="1"/>
<line x1="103.5" y1="0" x2="103.5" y2="146" stroke="#6c6c68" stroke-width="1"/>
<line x1="-0.5" y1="0" x2="104.0" y2="0" stroke="#0a0630" stroke-width="1"/>
<line x1="-0.5" y1="146" x2="104.0" y2="146" stroke="#0a0630" stroke-width="1"/>
<line x1="-3" y1="15.9" x2="0" y2="15.9" stroke="#333" stroke-width="0.8"/>
<line x1="-3" y1="45.5" x2="0" y2="45.5" stroke="#333" stroke-width="0.8"/>
<line x1="-3" y1="75.1" x2="0" y2="75.1" stroke="#333" stroke-width="0.8"/>
<line x1="-3" y1="104.7" x2="0" y2="104.7" stroke="#333" stroke-width="0.8"/>
<line x1="-3" y1="134.3" x2="0" y2="134.3" stroke="#333" stroke-width="0.8"/>
<line x1="-0.2" y1="146" x2="-0.2" y2="149" stroke="#333" stroke-width="0.8"/>
<line x1="29.6" y1="146" x2="29.6" y2="149" stroke="#333" stroke-width="0.8"/>
<line x1="59.4" y1="146" x2="59.4" y2="149" stroke="#333" stroke-width="0.8"/>
<line x1="89.2" y1="146" x2="89.2" y2="149" stroke="#333" stroke-width="0.8"/>
<text x="51.75" y="-4.1" font-size="10.5" text-anchor="middle" fill="#111">R</text>
<rect x="109.3" y="0" width="7.6" height="146" fill="url(#gjet)" stroke="#444" stroke-width="0.7"/>
<line x1="116.89999999999999" y1="146.0" x2="118.89999999999999" y2="146.0" stroke="#333" stroke-width="0.8"/>
<text x="121.49999999999999" y="148.6" font-size="7.2" fill="#262626">0</text>
<line x1="116.89999999999999" y1="127.7" x2="118.89999999999999" y2="127.7" stroke="#333" stroke-width="0.8"/>
<text x="121.49999999999999" y="130.3" font-size="7.2" fill="#262626">2</text>
<line x1="116.89999999999999" y1="109.4" x2="118.89999999999999" y2="109.4" stroke="#333" stroke-width="0.8"/>
<text x="121.49999999999999" y="112.0" font-size="7.2" fill="#262626">4</text>
<line x1="116.89999999999999" y1="91.1" x2="118.89999999999999" y2="91.1" stroke="#333" stroke-width="0.8"/>
<text x="121.49999999999999" y="93.7" font-size="7.2" fill="#262626">6</text>
<line x1="116.89999999999999" y1="72.8" x2="118.89999999999999" y2="72.8" stroke="#333" stroke-width="0.8"/>
<text x="121.49999999999999" y="75.4" font-size="7.2" fill="#262626">8</text>
<line x1="116.89999999999999" y1="54.5" x2="118.89999999999999" y2="54.5" stroke="#333" stroke-width="0.8"/>
<text x="121.49999999999999" y="57.1" font-size="7.2" fill="#262626">10</text>
<line x1="116.89999999999999" y1="36.2" x2="118.89999999999999" y2="36.2" stroke="#333" stroke-width="0.8"/>
<text x="121.49999999999999" y="38.8" font-size="7.2" fill="#262626">12</text>
<line x1="116.89999999999999" y1="17.8" x2="118.89999999999999" y2="17.8" stroke="#333" stroke-width="0.8"/>
<text x="121.49999999999999" y="20.4" font-size="7.2" fill="#262626">14</text>
</g>
<g transform="translate(35,198.4)">
<g clip-path="url(#hc)">
<g clip-path="url(#kc)">
<use href="#kid" fill="#f8e8ea"/>
<path d="M53.5,126.1 C51.5,127.9 49.6,130.0 47.5,131.0 C45.4,132.0 43.2,132.2 41.0,132.3 C38.8,132.4 36.7,132.1 34.5,131.4 C32.3,130.7 30.0,129.2 27.6,127.9 C25.2,126.6 22.6,125.1 20.2,123.6 C17.8,122.1 15.0,120.3 13.0,118.7 C11.0,117.1 9.4,115.8 8.0,113.8 C6.5,111.8 5.2,109.6 4.3,106.5 C3.4,103.4 2.9,98.9 2.5,95.0 C2.1,91.1 1.9,86.4 1.9,83.0 C1.9,79.6 2.0,76.8 2.6,74.5 C3.2,72.2 4.3,71.0 5.5,69.5 C6.7,68.0 8.6,67.0 10.0,65.5 C11.4,64.0 12.6,62.4 14.0,60.5 C15.4,58.6 17.0,55.9 18.4,53.9 C19.8,51.9 21.0,50.3 22.5,48.3 C24.0,46.3 26.0,43.7 27.6,41.7 C29.2,39.7 30.6,38.3 32.0,36.5 C33.4,34.7 34.6,32.5 36.0,30.8 C37.4,29.1 38.9,27.9 40.4,26.3 C41.9,24.7 43.4,22.5 45.0,21.2" fill="none" stroke="#f0aaaa" stroke-width="34" stroke-linecap="round" opacity="0.8" filter="url(#b6)"/>
<path d="M53.5,126.1 C51.5,127.9 49.6,130.0 47.5,131.0 C45.4,132.0 43.2,132.2 41.0,132.3 C38.8,132.4 36.7,132.1 34.5,131.4 C32.3,130.7 30.0,129.2 27.6,127.9 C25.2,126.6 22.6,125.1 20.2,123.6 C17.8,122.1 15.0,120.3 13.0,118.7 C11.0,117.1 9.4,115.8 8.0,113.8 C6.5,111.8 5.2,109.6 4.3,106.5 C3.4,103.4 2.9,98.9 2.5,95.0 C2.1,91.1 1.9,86.4 1.9,83.0 C1.9,79.6 2.0,76.8 2.6,74.5 C3.2,72.2 4.3,71.0 5.5,69.5 C6.7,68.0 8.6,67.0 10.0,65.5 C11.4,64.0 12.6,62.4 14.0,60.5 C15.4,58.6 17.0,55.9 18.4,53.9 C19.8,51.9 21.0,50.3 22.5,48.3 C24.0,46.3 26.0,43.7 27.6,41.7 C29.2,39.7 30.6,38.3 32.0,36.5 C33.4,34.7 34.6,32.5 36.0,30.8 C37.4,29.1 38.9,27.9 40.4,26.3 C41.9,24.7 43.4,22.5 45.0,21.2" fill="none" stroke="#ec9494" stroke-width="26" stroke-linecap="round" opacity="0.6" filter="url(#n6)"/>
<ellipse cx="30" cy="80" rx="14" ry="30" fill="#f0b4b4" opacity="0.6" filter="url(#n1)" transform="rotate(25 30 80)"/>
<use href="#kid" fill="#ffffff" opacity="0.35" filter="url(#n5)"/>
<ellipse cx="37" cy="50" rx="3" ry="14" fill="#e05252" opacity="0.8" filter="url(#b2)" transform="rotate(40 37 50)"/>
<ellipse cx="28" cy="62" rx="3" ry="9" fill="#e46a6a" opacity="0.6" filter="url(#b2)" transform="rotate(40 28 62)"/>
<ellipse cx="62" cy="62" rx="15" ry="28" fill="#f4f4ff" opacity="0.9" filter="url(#n6)" transform="rotate(18 62 62)"/>
<ellipse cx="55" cy="60" rx="9" ry="16" fill="#d0d0ff" opacity="0.6" filter="url(#n4)" transform="rotate(20 55 60)"/>
<ellipse cx="48" cy="58" rx="6" ry="10" fill="#f0b0b0" opacity="0.7" filter="url(#n2)" transform="rotate(20 48 58)"/>
<path d="M50.0,18.5 C51.6,17.7 52.7,17.2 54.5,16.5 C56.3,15.8 58.2,14.5 60.9,14.1 C63.6,13.7 68.0,13.6 70.7,14.0 C73.5,14.4 75.5,15.4 77.4,16.5 C79.3,17.6 80.7,18.9 82.0,20.5 C83.3,22.1 84.5,23.8 85.5,26.0 C86.5,28.2 87.6,31.2 88.3,34.0 C89.0,36.8 89.5,40.0 89.8,43.0 C90.1,46.0 90.1,48.8 90.0,52.0 C89.9,55.2 89.8,58.7 89.4,62.0 C89.0,65.3 88.5,68.8 87.8,72.0 C87.1,75.2 86.5,78.1 85.5,81.0" fill="none" stroke="#6c6cff" stroke-width="5" stroke-linecap="round" opacity="0.9" filter="url(#b1_0)"/>
<path d="M50.0,18.5 C51.6,17.7 52.7,17.2 54.5,16.5 C56.3,15.8 58.2,14.5 60.9,14.1 C63.6,13.7 68.0,13.6 70.7,14.0 C73.5,14.4 75.5,15.4 77.4,16.5 C79.3,17.6 80.7,18.9 82.0,20.5 C83.3,22.1 84.5,23.8 85.5,26.0 C86.5,28.2 87.6,31.2 88.3,34.0 C89.0,36.8 89.5,40.0 89.8,43.0 C90.1,46.0 90.1,48.8 90.0,52.0 C89.9,55.2 89.8,58.7 89.4,62.0 C89.0,65.3 88.5,68.8 87.8,72.0" fill="none" stroke="#8080ff" stroke-width="10" stroke-linecap="round" opacity="0.6" filter="url(#n5)"/>
<path d="M85.5,81.0 C84.5,83.9 82.8,86.7 81.5,89.5 C80.2,92.3 79.0,95.3 77.4,97.9 C75.8,100.5 73.8,102.8 71.9,105.2 C70.0,107.7 67.8,110.1 65.8,112.6 C63.8,115.0 61.8,117.7 59.7,119.9 C57.7,122.2 55.5,124.2 53.5,126.1 C51.5,127.9 49.6,130.0 47.5,131.0 C45.4,132.0 43.2,132.2 41.0,132.3 C38.8,132.4 36.7,132.1 34.5,131.4" fill="none" stroke="#a0a0ff" stroke-width="3" stroke-linecap="round" opacity="0.8" filter="url(#b0_7)"/>
<ellipse cx="48" cy="89" rx="10" ry="10" fill="#e04444" opacity="0.95" filter="url(#b2_5)" transform="rotate(0 48 89)"/>
<ellipse cx="57" cy="84" rx="7" ry="7" fill="#e86262" opacity="0.75" filter="url(#b2_5)" transform="rotate(0 57 84)"/>
<ellipse cx="60" cy="30" rx="4" ry="3" fill="#f0c0c0" opacity="0.6" filter="url(#b2_5)" transform="rotate(0 60 30)"/>
<ellipse cx="35" cy="120" rx="10" ry="7" fill="#f0b0b0" opacity="0.8" filter="url(#n3)" transform="rotate(0 35 120)"/>
</g>
<g clip-path="url(#rc)">
<use href="#roi" fill="#f4eef4"/>
<ellipse cx="26" cy="95" rx="9" ry="8" fill="#8488f6" opacity="0.9" filter="url(#b2_5)" transform="rotate(0 26 95)"/>
<ellipse cx="34" cy="86" rx="8" ry="3" fill="#a0a0f8" opacity="0.6" filter="url(#b2)" transform="rotate(0 34 86)"/>
<ellipse cx="42" cy="96" rx="6" ry="4" fill="#e05050" opacity="0.85" filter="url(#b2)" transform="rotate(-25 42 96)"/>
</g>
</g>
<use href="#roi" fill="none" stroke="#000" stroke-width="1.5"/>
<line x1="0" y1="0" x2="0" y2="146" stroke="#808080" stroke-width="1"/>
<line x1="103.5" y1="0" x2="103.5" y2="146" stroke="#808080" stroke-width="1"/>
<line x1="-0.5" y1="0" x2="104.0" y2="0" stroke="#505050" stroke-width="1"/>
<line x1="-0.5" y1="146" x2="104.0" y2="146" stroke="#505050" stroke-width="1"/>
<line x1="-3" y1="15.9" x2="0" y2="15.9" stroke="#333" stroke-width="0.8"/>
<line x1="-3" y1="45.5" x2="0" y2="45.5" stroke="#333" stroke-width="0.8"/>
<line x1="-3" y1="75.1" x2="0" y2="75.1" stroke="#333" stroke-width="0.8"/>
<line x1="-3" y1="104.7" x2="0" y2="104.7" stroke="#333" stroke-width="0.8"/>
<line x1="-3" y1="134.3" x2="0" y2="134.3" stroke="#333" stroke-width="0.8"/>
<line x1="-0.2" y1="146" x2="-0.2" y2="149" stroke="#333" stroke-width="0.8"/>
<line x1="29.6" y1="146" x2="29.6" y2="149" stroke="#333" stroke-width="0.8"/>
<line x1="59.4" y1="146" x2="59.4" y2="149" stroke="#333" stroke-width="0.8"/>
<line x1="89.2" y1="146" x2="89.2" y2="149" stroke="#333" stroke-width="0.8"/>
<text x="51.75" y="-4.1" font-size="10.5" text-anchor="middle" fill="#111">ΔfIC</text>
<rect x="109.3" y="0" width="7.6" height="146" fill="url(#gbwr)" stroke="#444" stroke-width="0.7"/>
<line x1="116.89999999999999" y1="146.0" x2="118.89999999999999" y2="146.0" stroke="#333" stroke-width="0.8"/>
<text x="121.49999999999999" y="148.6" font-size="7.2" fill="#262626">−0.6</text>
<line x1="116.89999999999999" y1="121.7" x2="118.89999999999999" y2="121.7" stroke="#333" stroke-width="0.8"/>
<text x="121.49999999999999" y="124.3" font-size="7.2" fill="#262626">−0.4</text>
<line x1="116.89999999999999" y1="97.3" x2="118.89999999999999" y2="97.3" stroke="#333" stroke-width="0.8"/>
<text x="121.49999999999999" y="99.9" font-size="7.2" fill="#262626">−0.2</text>
<line x1="116.89999999999999" y1="73.0" x2="118.89999999999999" y2="73.0" stroke="#333" stroke-width="0.8"/>
<text x="121.49999999999999" y="75.6" font-size="7.2" fill="#262626">0.0</text>
<line x1="116.89999999999999" y1="48.7" x2="118.89999999999999" y2="48.7" stroke="#333" stroke-width="0.8"/>
<text x="121.49999999999999" y="51.3" font-size="7.2" fill="#262626">0.2</text>
<line x1="116.89999999999999" y1="24.3" x2="118.89999999999999" y2="24.3" stroke="#333" stroke-width="0.8"/>
<text x="121.49999999999999" y="26.9" font-size="7.2" fill="#262626">0.4</text>
<line x1="116.89999999999999" y1="0.0" x2="118.89999999999999" y2="0.0" stroke="#333" stroke-width="0.8"/>
<text x="121.49999999999999" y="2.6" font-size="7.2" fill="#262626">0.6</text>
</g>
<g transform="translate(205,198.4)">
<g clip-path="url(#hc)">
<g clip-path="url(#kc)">
<use href="#kid" fill="#c8c8fc"/>
<use href="#kid" fill="#9c9cff" opacity="0.45" filter="url(#n5)"/>
<use href="#kid" fill="#f0f0ff" opacity="0.45" filter="url(#n4)"/>
<path d="M41.0,132.3 C38.8,132.4 36.7,132.1 34.5,131.4 C32.3,130.7 30.0,129.2 27.6,127.9 C25.2,126.6 22.6,125.1 20.2,123.6 C17.8,122.1 15.0,120.3 13.0,118.7 C11.0,117.1 9.4,115.8 8.0,113.8 C6.5,111.8 5.2,109.6 4.3,106.5 C3.4,103.4 2.9,98.9 2.5,95.0 C2.1,91.1 1.9,86.4 1.9,83.0 C1.9,79.6 2.0,76.8 2.6,74.5 C3.2,72.2 4.3,71.0 5.5,69.5 C6.7,68.0 8.6,67.0 10.0,65.5 C11.4,64.0 12.6,62.4 14.0,60.5 C15.4,58.6 17.0,55.9 18.4,53.9 C19.8,51.9 21.0,50.3 22.5,48.3 C24.0,46.3 26.0,43.7 27.6,41.7 C29.2,39.7 30.6,38.3 32.0,36.5" fill="none" stroke="#8080ff" stroke-width="18" stroke-linecap="round" opacity="0.75" filter="url(#n6)"/>
<ellipse cx="28" cy="72" rx="5" ry="18" fill="#7878ff" opacity="0.6" filter="url(#b3)" transform="rotate(35 28 72)"/>
<ellipse cx="66" cy="58" rx="11" ry="22" fill="#eeeafa" opacity="0.7" filter="url(#n6)" transform="rotate(15 66 58)"/>
<path d="M54.5,16.5 C56.3,15.8 58.2,14.5 60.9,14.1 C63.6,13.7 68.0,13.6 70.7,14.0 C73.5,14.4 75.5,15.4 77.4,16.5 C79.3,17.6 80.7,18.9 82.0,20.5 C83.3,22.1 84.5,23.8 85.5,26.0 C86.5,28.2 87.6,31.2 88.3,34.0 C89.0,36.8 89.5,40.0 89.8,43.0" fill="none" stroke="#e05050" stroke-width="6" stroke-linecap="round" opacity="0.95" filter="url(#b1_2)"/>
<path d="M40.4,26.3 C41.9,24.7 43.4,22.5 45.0,21.2 C46.6,19.9 48.4,19.3 50.0,18.5 C51.6,17.7 52.7,17.2 54.5,16.5" fill="none" stroke="#f0b0b0" stroke-width="5" stroke-linecap="round" opacity="0.7" filter="url(#b1_2)"/>
<path d="M50.0,18.5 C51.6,17.7 52.7,17.2 54.5,16.5 C56.3,15.8 58.2,14.5 60.9,14.1" fill="none" stroke="#f0c0c0" stroke-width="7" stroke-linecap="round" opacity="0.7" filter="url(#n4)"/>
<ellipse cx="50" cy="90" rx="11" ry="11" fill="#2c2cff" opacity="0.95" filter="url(#b2_5)" transform="rotate(0 50 90)"/>
<ellipse cx="56" cy="82" rx="7" ry="8" fill="#4040ff" opacity="0.85" filter="url(#b2_5)" transform="rotate(0 56 82)"/>
<ellipse cx="53" cy="57" rx="4" ry="6" fill="#5a5aff" opacity="0.85" filter="url(#b2_5)" transform="rotate(0 53 57)"/>
<ellipse cx="58" cy="66" rx="3" ry="5" fill="#6060ff" opacity="0.7" filter="url(#b2_5)" transform="rotate(0 58 66)"/>
<ellipse cx="42" cy="84" rx="6" ry="3" fill="#6060ff" opacity="0.7" filter="url(#b2_5)" transform="rotate(0 42 84)"/>
<ellipse cx="46" cy="62" rx="10" ry="14" fill="#f0b8b8" opacity="0.75" filter="url(#n2)" transform="rotate(25 46 62)"/>
<ellipse cx="55" cy="45" rx="6" ry="5" fill="#f0c0c0" opacity="0.7" filter="url(#n4)" transform="rotate(0 55 45)"/>
<ellipse cx="20" cy="82" rx="6" ry="14" fill="#8080ff" opacity="0.7" filter="url(#n2)" transform="rotate(20 20 82)"/>
</g>
<g clip-path="url(#rc)">
<use href="#roi" fill="#e4e2f8"/>
<ellipse cx="25" cy="98" rx="10" ry="7" fill="#f0a0a0" opacity="0.9" filter="url(#b2_5)" transform="rotate(0 25 98)"/>
<ellipse cx="38" cy="89" rx="6" ry="4" fill="#c0c0ff" opacity="0.6" filter="url(#b2)" transform="rotate(0 38 89)"/>
</g>
</g>
<use href="#roi" fill="none" stroke="#000" stroke-width="1.5"/>
<line x1="0" y1="0" x2="0" y2="146" stroke="#808080" stroke-width="1"/>
<line x1="103.5" y1="0" x2="103.5" y2="146" stroke="#808080" stroke-width="1"/>
<line x1="-0.5" y1="0" x2="104.0" y2="0" stroke="#505050" stroke-width="1"/>
<line x1="-0.5" y1="146" x2="104.0" y2="146" stroke="#505050" stroke-width="1"/>
<line x1="-3" y1="15.9" x2="0" y2="15.9" stroke="#333" stroke-width="0.8"/>
<line x1="-3" y1="45.5" x2="0" y2="45.5" stroke="#333" stroke-width="0.8"/>
<line x1="-3" y1="75.1" x2="0" y2="75.1" stroke="#333" stroke-width="0.8"/>
<line x1="-3" y1="104.7" x2="0" y2="104.7" stroke="#333" stroke-width="0.8"/>
<line x1="-3" y1="134.3" x2="0" y2="134.3" stroke="#333" stroke-width="0.8"/>
<line x1="-0.2" y1="146" x2="-0.2" y2="149" stroke="#333" stroke-width="0.8"/>
<line x1="29.6" y1="146" x2="29.6" y2="149" stroke="#333" stroke-width="0.8"/>
<line x1="59.4" y1="146" x2="59.4" y2="149" stroke="#333" stroke-width="0.8"/>
<line x1="89.2" y1="146" x2="89.2" y2="149" stroke="#333" stroke-width="0.8"/>
<text x="51.75" y="-4.1" font-size="10.5" text-anchor="middle" fill="#111">ΔfEES</text>
<rect x="109.3" y="0" width="7.6" height="146" fill="url(#gbwr)" stroke="#444" stroke-width="0.7"/>
<line x1="116.89999999999999" y1="146.0" x2="118.89999999999999" y2="146.0" stroke="#333" stroke-width="0.8"/>
<text x="121.49999999999999" y="148.6" font-size="7.2" fill="#262626">−0.6</text>
<line x1="116.89999999999999" y1="121.7" x2="118.89999999999999" y2="121.7" stroke="#333" stroke-width="0.8"/>
<text x="121.49999999999999" y="124.3" font-size="7.2" fill="#262626">−0.4</text>
<line x1="116.89999999999999" y1="97.3" x2="118.89999999999999" y2="97.3" stroke="#333" stroke-width="0.8"/>
<text x="121.49999999999999" y="99.9" font-size="7.2" fill="#262626">−0.2</text>
<line x1="116.89999999999999" y1="73.0" x2="118.89999999999999" y2="73.0" stroke="#333" stroke-width="0.8"/>
<text x="121.49999999999999" y="75.6" font-size="7.2" fill="#262626">0.0</text>
<line x1="116.89999999999999" y1="48.7" x2="118.89999999999999" y2="48.7" stroke="#333" stroke-width="0.8"/>
<text x="121.49999999999999" y="51.3" font-size="7.2" fill="#262626">0.2</text>
<line x1="116.89999999999999" y1="24.3" x2="118.89999999999999" y2="24.3" stroke="#333" stroke-width="0.8"/>
<text x="121.49999999999999" y="26.9" font-size="7.2" fill="#262626">0.4</text>
<line x1="116.89999999999999" y1="0.0" x2="118.89999999999999" y2="0.0" stroke="#333" stroke-width="0.8"/>
<text x="121.49999999999999" y="2.6" font-size="7.2" fill="#262626">0.6</text>
</g>
<g transform="translate(374.6,198.4)">
<g clip-path="url(#hc)">
<g clip-path="url(#kc)">
<use href="#kid" fill="#f6e0e2"/>
<use href="#kid" fill="none" stroke="#f0b0b0" stroke-width="30" opacity="0.75" filter="url(#b5)"/>
<use href="#kid" fill="none" stroke="#ec9c9c" stroke-width="24" opacity="0.5" filter="url(#n6)"/>
<ellipse cx="45" cy="72" rx="22" ry="40" fill="#f2c8c8" opacity="0.6" filter="url(#n6)" transform="rotate(25 45 72)"/>
<path d="M82.0,20.5 C83.3,22.1 84.5,23.8 85.5,26.0 C86.5,28.2 87.6,31.2 88.3,34.0 C89.0,36.8 89.5,40.0 89.8,43.0 C90.1,46.0 90.1,48.8 90.0,52.0 C89.9,55.2 89.8,58.7 89.4,62.0 C89.0,65.3 88.5,68.8 87.8,72.0 C87.1,75.2 86.5,78.1 85.5,81.0 C84.5,83.9 82.8,86.7 81.5,89.5 C80.2,92.3 79.0,95.3 77.4,97.9 C75.8,100.5 73.8,102.8 71.9,105.2 C70.0,107.7 67.8,110.1 65.8,112.6 C63.8,115.0 61.8,117.7 59.7,119.9 C57.7,122.2 55.5,124.2 53.5,126.1 C51.5,127.9 49.6,130.0 47.5,131.0 C45.4,132.0 43.2,132.2 41.0,132.3" fill="none" stroke="#e46060" stroke-width="9" stroke-linecap="round" opacity="0.9" filter="url(#b1_2)"/>
<path d="M90.0,52.0 C89.9,55.2 89.8,58.7 89.4,62.0 C89.0,65.3 88.5,68.8 87.8,72.0 C87.1,75.2 86.5,78.1 85.5,81.0 C84.5,83.9 82.8,86.7 81.5,89.5 C80.2,92.3 79.0,95.3 77.4,97.9 C75.8,100.5 73.8,102.8 71.9,105.2 C70.0,107.7 67.8,110.1 65.8,112.6 C63.8,115.0 61.8,117.7 59.7,119.9 C57.7,122.2 55.5,124.2 53.5,126.1 C51.5,127.9 49.6,130.0 47.5,131.0 C45.4,132.0 43.2,132.2 41.0,132.3" fill="none" stroke="#e04848" stroke-width="6" stroke-linecap="round" opacity="0.95" filter="url(#b0_8)"/>
<use href="#kid" fill="#ffffff" opacity="0.3" filter="url(#n5)"/>
<path d="M60.9,14.1 C63.6,13.7 68.0,13.6 70.7,14.0 C73.5,14.4 75.5,15.4 77.4,16.5 C79.3,17.6 80.7,18.9 82.0,20.5 C83.3,22.1 84.5,23.8 85.5,26.0 C86.5,28.2 87.6,31.2 88.3,34.0 C89.0,36.8 89.5,40.0 89.8,43.0" fill="none" stroke="#6060ff" stroke-width="8" stroke-linecap="round" opacity="0.9" filter="url(#n5)"/>
<path d="M2.5,95.0 C2.1,91.1 1.9,86.4 1.9,83.0 C1.9,79.6 2.0,76.8 2.6,74.5 C3.2,72.2 4.3,71.0 5.5,69.5 C6.7,68.0 8.6,67.0 10.0,65.5 C11.4,64.0 12.6,62.4 14.0,60.5 C15.4,58.6 17.0,55.9 18.4,53.9 C19.8,51.9 21.0,50.3 22.5,48.3 C24.0,46.3 26.0,43.7 27.6,41.7 C29.2,39.7 30.6,38.3 32.0,36.5 C33.4,34.7 34.6,32.5 36.0,30.8 C37.4,29.1 38.9,27.9 40.4,26.3 C41.9,24.7 43.4,22.5 45.0,21.2 C46.6,19.9 48.4,19.3 50.0,18.5 C51.6,17.7 52.7,17.2 54.5,16.5" fill="none" stroke="#7070ff" stroke-width="9" stroke-linecap="round" opacity="0.85" filter="url(#n5)"/>
<path d="M41.0,132.3 C38.8,132.4 36.7,132.1 34.5,131.4 C32.3,130.7 30.0,129.2 27.6,127.9 C25.2,126.6 22.6,125.1 20.2,123.6 C17.8,122.1 15.0,120.3 13.0,118.7 C11.0,117.1 9.4,115.8 8.0,113.8 C6.5,111.8 5.2,109.6 4.3,106.5 C3.4,103.4 2.9,98.9 2.5,95.0" fill="none" stroke="#7878ff" stroke-width="9" stroke-linecap="round" opacity="0.8" filter="url(#n5)"/>
<ellipse cx="48" cy="62" rx="14" ry="22" fill="#f4f4ff" opacity="0.8" filter="url(#n6)" transform="rotate(25 48 62)"/>
<ellipse cx="10" cy="115" rx="4" ry="4" fill="#3030ff" opacity="0.9" filter="url(#b1_2)" transform="rotate(0 10 115)"/>
<ellipse cx="55" cy="55" rx="3" ry="4" fill="#4848ff" opacity="0.85" filter="url(#b1_2)" transform="rotate(0 55 55)"/>
<ellipse cx="50" cy="50" rx="3" ry="3" fill="#e05858" opacity="0.85" filter="url(#b1_2)" transform="rotate(0 50 50)"/>
<ellipse cx="52" cy="64" rx="3" ry="6" fill="#e05858" opacity="0.75" filter="url(#b1_2)" transform="rotate(0 52 64)"/>
<ellipse cx="62" cy="50" rx="3" ry="3" fill="#5050ff" opacity="0.8" filter="url(#b1_2)" transform="rotate(0 62 50)"/>
<ellipse cx="45" cy="74" rx="3" ry="3" fill="#7070ff" opacity="0.6" filter="url(#b1_2)" transform="rotate(0 45 74)"/>
<ellipse cx="58" cy="72" rx="3" ry="3" fill="#6868ff" opacity="0.6" filter="url(#b1_2)" transform="rotate(0 58 72)"/>
<ellipse cx="38" cy="40" rx="3" ry="2" fill="#8080ff" opacity="0.6" filter="url(#b1_2)" transform="rotate(0 38 40)"/>
<ellipse cx="14" cy="72" rx="3" ry="4" fill="#6060ff" opacity="0.7" filter="url(#b1_2)" transform="rotate(0 14 72)"/>
<ellipse cx="30" cy="30" rx="3" ry="3" fill="#6060ff" opacity="0.7" filter="url(#b1_2)" transform="rotate(0 30 30)"/>
<ellipse cx="6" cy="80" rx="3" ry="5" fill="#5050ff" opacity="0.8" filter="url(#b1_2)" transform="rotate(0 6 80)"/>
<ellipse cx="48" cy="62" rx="12" ry="20" fill="#9090ff" opacity="0.6" filter="url(#n4)" transform="rotate(25 48 62)"/>
<ellipse cx="35" cy="112" rx="14" ry="10" fill="#f8eef0" opacity="0.7" filter="url(#n6)" transform="rotate(0 35 112)"/>
</g>
<g clip-path="url(#rc)">
<use href="#roi" fill="#fcf4f4"/>
</g>
</g>
<use href="#roi" fill="none" stroke="#000" stroke-width="1.5"/>
<line x1="0" y1="0" x2="0" y2="146" stroke="#808080" stroke-width="1"/>
<line x1="103.5" y1="0" x2="103.5" y2="146" stroke="#808080" stroke-width="1"/>
<line x1="-0.5" y1="0" x2="104.0" y2="0" stroke="#505050" stroke-width="1"/>
<line x1="-0.5" y1="146" x2="104.0" y2="146" stroke="#505050" stroke-width="1"/>
<line x1="-3" y1="15.9" x2="0" y2="15.9" stroke="#333" stroke-width="0.8"/>
<line x1="-3" y1="45.5" x2="0" y2="45.5" stroke="#333" stroke-width="0.8"/>
<line x1="-3" y1="75.1" x2="0" y2="75.1" stroke="#333" stroke-width="0.8"/>
<line x1="-3" y1="104.7" x2="0" y2="104.7" stroke="#333" stroke-width="0.8"/>
<line x1="-3" y1="134.3" x2="0" y2="134.3" stroke="#333" stroke-width="0.8"/>
<line x1="-0.2" y1="146" x2="-0.2" y2="149" stroke="#333" stroke-width="0.8"/>
<line x1="29.6" y1="146" x2="29.6" y2="149" stroke="#333" stroke-width="0.8"/>
<line x1="59.4" y1="146" x2="59.4" y2="149" stroke="#333" stroke-width="0.8"/>
<line x1="89.2" y1="146" x2="89.2" y2="149" stroke="#333" stroke-width="0.8"/>
<text x="51.75" y="-4.1" font-size="10.5" text-anchor="middle" fill="#111">ΔfVASC</text>
<rect x="109.3" y="0" width="7.6" height="146" fill="url(#gbwr)" stroke="#444" stroke-width="0.7"/>
<line x1="116.89999999999999" y1="140.0" x2="118.89999999999999" y2="140.0" stroke="#333" stroke-width="0.8"/>
<text x="121.49999999999999" y="142.6" font-size="7.2" fill="#262626">−0.3</text>
<line x1="116.89999999999999" y1="117.6" x2="118.89999999999999" y2="117.6" stroke="#333" stroke-width="0.8"/>
<text x="121.49999999999999" y="120.2" font-size="7.2" fill="#262626">−0.2</text>
<line x1="116.89999999999999" y1="95.3" x2="118.89999999999999" y2="95.3" stroke="#333" stroke-width="0.8"/>
<text x="121.49999999999999" y="97.9" font-size="7.2" fill="#262626">−0.1</text>
<line x1="116.89999999999999" y1="73.0" x2="118.89999999999999" y2="73.0" stroke="#333" stroke-width="0.8"/>
<text x="121.49999999999999" y="75.6" font-size="7.2" fill="#262626">0.0</text>
<line x1="116.89999999999999" y1="50.7" x2="118.89999999999999" y2="50.7" stroke="#333" stroke-width="0.8"/>
<text x="121.49999999999999" y="53.3" font-size="7.2" fill="#262626">0.1</text>
<line x1="116.89999999999999" y1="28.4" x2="118.89999999999999" y2="28.4" stroke="#333" stroke-width="0.8"/>
<text x="121.49999999999999" y="31.0" font-size="7.2" fill="#262626">0.2</text>
<line x1="116.89999999999999" y1="6.0" x2="118.89999999999999" y2="6.0" stroke="#333" stroke-width="0.8"/>
<text x="121.49999999999999" y="8.6" font-size="7.2" fill="#262626">0.3</text>
</g>
<g transform="translate(544.6,198.4)">
<g clip-path="url(#hc)">
<g clip-path="url(#kc)">
<use href="#kid" fill="#f6eef2"/>
<use href="#kid" fill="#ffffff" opacity="0.4" filter="url(#n5)"/>
<ellipse cx="74" cy="60" rx="13" ry="30" fill="#dcdcfc" opacity="0.85" filter="url(#b6)" transform="rotate(10 74 60)"/>
<ellipse cx="72" cy="58" rx="14" ry="30" fill="#d0d0fc" opacity="0.6" filter="url(#n6)" transform="rotate(10 72 58)"/>
<ellipse cx="42" cy="55" rx="17" ry="30" fill="#f0b0b0" opacity="0.85" filter="url(#n6)" transform="rotate(35 42 55)"/>
<ellipse cx="42" cy="55" rx="12" ry="22" fill="#f2c0c0" opacity="0.6" filter="url(#b4)" transform="rotate(35 42 55)"/>
<path d="M50.0,18.5 C51.6,17.7 52.7,17.2 54.5,16.5 C56.3,15.8 58.2,14.5 60.9,14.1 C63.6,13.7 68.0,13.6 70.7,14.0 C73.5,14.4 75.5,15.4 77.4,16.5 C79.3,17.6 80.7,18.9 82.0,20.5 C83.3,22.1 84.5,23.8 85.5,26.0 C86.5,28.2 87.6,31.2 88.3,34.0" fill="none" stroke="#7070ff" stroke-width="20" stroke-linecap="round" opacity="0.7" filter="url(#n6)"/>
<path d="M50.0,18.5 C51.6,17.7 52.7,17.2 54.5,16.5 C56.3,15.8 58.2,14.5 60.9,14.1 C63.6,13.7 68.0,13.6 70.7,14.0 C73.5,14.4 75.5,15.4 77.4,16.5 C79.3,17.6 80.7,18.9 82.0,20.5 C83.3,22.1 84.5,23.8 85.5,26.0 C86.5,28.2 87.6,31.2 88.3,34.0" fill="none" stroke="#7878ff" stroke-width="14" stroke-linecap="round" opacity="0.8" filter="url(#b2_5)"/>
<path d="M54.5,16.5 C56.3,15.8 58.2,14.5 60.9,14.1 C63.6,13.7 68.0,13.6 70.7,14.0 C73.5,14.4 75.5,15.4 77.4,16.5 C79.3,17.6 80.7,18.9 82.0,20.5" fill="none" stroke="#2c2cff" stroke-width="8" stroke-linecap="round" opacity="0.9" filter="url(#b1_5)"/>
<ellipse cx="48" cy="94" rx="12" ry="12" fill="#e87878" opacity="0.9" filter="url(#b4)" transform="rotate(0 48 94)"/>
<ellipse cx="50" cy="92" rx="14" ry="15" fill="#e46868" opacity="0.75" filter="url(#n6)" transform="rotate(0 50 92)"/>
<ellipse cx="10" cy="90" rx="6" ry="16" fill="#ec9c9c" opacity="0.85" filter="url(#n2)" transform="rotate(0 10 90)"/>
<path d="M5.5,69.5 C6.7,68.0 8.6,67.0 10.0,65.5 C11.4,64.0 12.6,62.4 14.0,60.5 C15.4,58.6 17.0,55.9 18.4,53.9 C19.8,51.9 21.0,50.3 22.5,48.3 C24.0,46.3 26.0,43.7 27.6,41.7 C29.2,39.7 30.6,38.3 32.0,36.5 C33.4,34.7 34.6,32.5 36.0,30.8 C37.4,29.1 38.9,27.9 40.4,26.3 C41.9,24.7 43.4,22.5 45.0,21.2" fill="none" stroke="#c4c4ff" stroke-width="8" stroke-linecap="round" opacity="0.7" filter="url(#n2)"/>
<ellipse cx="30" cy="120" rx="9" ry="8" fill="#f0b8b8" opacity="0.7" filter="url(#n3)" transform="rotate(0 30 120)"/>
<ellipse cx="62" cy="68" rx="4" ry="3" fill="#9898ff" opacity="0.8" filter="url(#n2)" transform="rotate(0 62 68)"/>
<path d="M77.4,97.9 C75.8,100.5 73.8,102.8 71.9,105.2 C70.0,107.7 67.8,110.1 65.8,112.6 C63.8,115.0 61.8,117.7 59.7,119.9 C57.7,122.2 55.5,124.2 53.5,126.1 C51.5,127.9 49.6,130.0 47.5,131.0 C45.4,132.0 43.2,132.2 41.0,132.3" fill="none" stroke="#c8c8ff" stroke-width="6" stroke-linecap="round" opacity="0.6" filter="url(#n2)"/>
</g>
<g clip-path="url(#rc)">
<use href="#roi" fill="#eeeefa"/>
<ellipse cx="40" cy="96" rx="8" ry="5" fill="#e46c6c" opacity="0.9" filter="url(#b2_5)" transform="rotate(-25 40 96)"/>
<ellipse cx="22" cy="96" rx="7" ry="6" fill="#d0d0fa" opacity="0.8" filter="url(#b2)" transform="rotate(0 22 96)"/>
</g>
</g>
<use href="#roi" fill="none" stroke="#000" stroke-width="1.5"/>
<line x1="0" y1="0" x2="0" y2="146" stroke="#808080" stroke-width="1"/>
<line x1="103.5" y1="0" x2="103.5" y2="146" stroke="#808080" stroke-width="1"/>
<line x1="-0.5" y1="0" x2="104.0" y2="0" stroke="#505050" stroke-width="1"/>
<line x1="-0.5" y1="146" x2="104.0" y2="146" stroke="#505050" stroke-width="1"/>
<line x1="-3" y1="15.9" x2="0" y2="15.9" stroke="#333" stroke-width="0.8"/>
<line x1="-3" y1="45.5" x2="0" y2="45.5" stroke="#333" stroke-width="0.8"/>
<line x1="-3" y1="75.1" x2="0" y2="75.1" stroke="#333" stroke-width="0.8"/>
<line x1="-3" y1="104.7" x2="0" y2="104.7" stroke="#333" stroke-width="0.8"/>
<line x1="-3" y1="134.3" x2="0" y2="134.3" stroke="#333" stroke-width="0.8"/>
<line x1="-0.2" y1="146" x2="-0.2" y2="149" stroke="#333" stroke-width="0.8"/>
<line x1="29.6" y1="146" x2="29.6" y2="149" stroke="#333" stroke-width="0.8"/>
<line x1="59.4" y1="146" x2="59.4" y2="149" stroke="#333" stroke-width="0.8"/>
<line x1="89.2" y1="146" x2="89.2" y2="149" stroke="#333" stroke-width="0.8"/>
<text x="51.75" y="-4.1" font-size="10.5" text-anchor="middle" fill="#111">ΔR</text>
<rect x="109.3" y="0" width="7.6" height="146" fill="url(#gbwr)" stroke="#444" stroke-width="0.7"/>
<line x1="116.89999999999999" y1="131.4" x2="118.89999999999999" y2="131.4" stroke="#333" stroke-width="0.8"/>
<text x="121.49999999999999" y="134.0" font-size="7.2" fill="#262626">−10</text>
<line x1="116.89999999999999" y1="102.2" x2="118.89999999999999" y2="102.2" stroke="#333" stroke-width="0.8"/>
<text x="121.49999999999999" y="104.8" font-size="7.2" fill="#262626">−5</text>
<line x1="116.89999999999999" y1="73.0" x2="118.89999999999999" y2="73.0" stroke="#333" stroke-width="0.8"/>
<text x="121.49999999999999" y="75.6" font-size="7.2" fill="#262626">0</text>
<line x1="116.89999999999999" y1="43.8" x2="118.89999999999999" y2="43.8" stroke="#333" stroke-width="0.8"/>
<text x="121.49999999999999" y="46.4" font-size="7.2" fill="#262626">5</text>
<line x1="116.89999999999999" y1="14.6" x2="118.89999999999999" y2="14.6" stroke="#333" stroke-width="0.8"/>
<text x="121.49999999999999" y="17.2" font-size="7.2" fill="#262626">10</text>
</g>
<text x="7.6" y="32.2" font-size="18.4" font-weight="bold" fill="#000">A</text>
<text x="8.2" y="217.5" font-size="16.5" font-weight="bold" fill="#000">B</text>
<text transform="translate(7.9,392.7) scale(0.88,1)" font-size="18.4" font-weight="bold" fill="#000">C</text>
<line x1="99.5" y1="371.4" x2="99.5" y2="585.2" stroke="#dcdcdc" stroke-width="0.7" stroke-dasharray="1,1.6"/>
<line x1="138.4" y1="371.4" x2="138.4" y2="585.2" stroke="#dcdcdc" stroke-width="0.7" stroke-dasharray="1,1.6"/>
<line x1="177.2" y1="371.4" x2="177.2" y2="585.2" stroke="#dcdcdc" stroke-width="0.7" stroke-dasharray="1,1.6"/>
<line x1="216.1" y1="371.4" x2="216.1" y2="585.2" stroke="#dcdcdc" stroke-width="0.7" stroke-dasharray="1,1.6"/>
<line x1="255.0" y1="371.4" x2="255.0" y2="585.2" stroke="#dcdcdc" stroke-width="0.7" stroke-dasharray="1,1.6"/>
<line x1="92.0" y1="544.4" x2="262.9" y2="544.4" stroke="#dcdcdc" stroke-width="0.7" stroke-dasharray="1,1.6"/>
<line x1="92.0" y1="503.6" x2="262.9" y2="503.6" stroke="#dcdcdc" stroke-width="0.7" stroke-dasharray="1,1.6"/>
<line x1="92.0" y1="462.8" x2="262.9" y2="462.8" stroke="#dcdcdc" stroke-width="0.7" stroke-dasharray="1,1.6"/>
<line x1="92.0" y1="422.0" x2="262.9" y2="422.0" stroke="#dcdcdc" stroke-width="0.7" stroke-dasharray="1,1.6"/>
<line x1="92.0" y1="381.2" x2="262.9" y2="381.2" stroke="#dcdcdc" stroke-width="0.7" stroke-dasharray="1,1.6"/>
<line x1="89.8" y1="585.2" x2="92.0" y2="585.2" stroke="#333" stroke-width="0.8"/>
<text x="87.6" y="587.6" font-size="7" text-anchor="end" fill="#262626">0.0</text>
<line x1="89.8" y1="544.4" x2="92.0" y2="544.4" stroke="#333" stroke-width="0.8"/>
<text x="87.6" y="546.8" font-size="7" text-anchor="end" fill="#262626">0.2</text>
<line x1="89.8" y1="503.6" x2="92.0" y2="503.6" stroke="#333" stroke-width="0.8"/>
<text x="87.6" y="506.0" font-size="7" text-anchor="end" fill="#262626">0.4</text>
<line x1="89.8" y1="462.8" x2="92.0" y2="462.8" stroke="#333" stroke-width="0.8"/>
<text x="87.6" y="465.2" font-size="7" text-anchor="end" fill="#262626">0.6</text>
<line x1="89.8" y1="422.0" x2="92.0" y2="422.0" stroke="#333" stroke-width="0.8"/>
<text x="87.6" y="424.4" font-size="7" text-anchor="end" fill="#262626">0.8</text>
<line x1="89.8" y1="381.2" x2="92.0" y2="381.2" stroke="#333" stroke-width="0.8"/>
<text x="87.6" y="383.6" font-size="7" text-anchor="end" fill="#262626">1.0</text>
<line x1="99.5" y1="585.2" x2="99.5" y2="587.4000000000001" stroke="#333" stroke-width="0.8"/>
<text x="99.5" y="594.8" font-size="7" text-anchor="middle" fill="#262626">0.0</text>
<line x1="138.4" y1="585.2" x2="138.4" y2="587.4000000000001" stroke="#333" stroke-width="0.8"/>
<text x="138.4" y="594.8" font-size="7" text-anchor="middle" fill="#262626">0.5</text>
<line x1="177.2" y1="585.2" x2="177.2" y2="587.4000000000001" stroke="#333" stroke-width="0.8"/>
<text x="177.2" y="594.8" font-size="7" text-anchor="middle" fill="#262626">1.0</text>
<line x1="216.1" y1="585.2" x2="216.1" y2="587.4000000000001" stroke="#333" stroke-width="0.8"/>
<text x="216.1" y="594.8" font-size="7" text-anchor="middle" fill="#262626">1.5</text>
<line x1="255.0" y1="585.2" x2="255.0" y2="587.4000000000001" stroke="#333" stroke-width="0.8"/>
<text x="255.0" y="594.8" font-size="7" text-anchor="middle" fill="#262626">2.0</text>
<polyline points="99.5,381.2 109.6,407.3 177.2,421.0 255.0,465.9" fill="none" stroke="#2f78b8" stroke-width="1.4" stroke-dasharray="4.7,1.9"/>
<polyline points="99.5,381.2 107.7,421.4 112.3,425.5 177.2,441.8 255.0,495.4" fill="none" stroke="#8c564b" stroke-width="1.4" stroke-dasharray="4.7,1.9"/>
<path d="M102.1,392.7 L107.7,398.3 M102.1,398.3 L107.7,392.7" stroke="#9ccff0" stroke-width="0.9"/>
<path d="M101.5,389.8 L107.9,389.8 L104.7,395.4 Z" fill="#7ab8e8" stroke="#222" stroke-width="0.7"/>
<circle cx="104.7" cy="402.0" r="2.9" fill="#4a8ed4" stroke="#222" stroke-width="0.7"/>
<path d="M108.4,400.6 L114.8,400.6 L111.6,406.2 Z" fill="#7ab8e8" stroke="#222" stroke-width="0.7"/>
<circle cx="111.6" cy="403.0" r="2.9" fill="#4a8ed4" stroke="#222" stroke-width="0.7"/>
<path d="M108.8,400.8 L114.4,406.4 M108.8,406.4 L114.4,400.8" stroke="#9ccff0" stroke-width="0.9"/>
<path d="M101.9,408.0 L107.5,413.6 M101.9,413.6 L107.5,408.0" stroke="#e0c8b0" stroke-width="0.9"/>
<path d="M101.3,404.9 L107.7,404.9 L104.5,410.5 Z" fill="#c8a090" stroke="#222" stroke-width="0.7"/>
<circle cx="104.9" cy="416.1" r="2.9" fill="#8c564b" stroke="#222" stroke-width="0.7"/>
<path d="M108.8,425.3 L114.4,430.9 M108.8,430.9 L114.4,425.3" stroke="#e0c8b0" stroke-width="0.9"/>
<path d="M108.4,421.6 L114.8,421.6 L111.6,427.2 Z" fill="#c8a090" stroke="#222" stroke-width="0.7"/>
<circle cx="111.6" cy="424.0" r="2.9" fill="#8c564b" stroke="#222" stroke-width="0.7"/>
<circle cx="177.2" cy="415.9" r="2.9" fill="#4a8ed4" stroke="#222" stroke-width="0.7"/>
<path d="M174.4,417.2 L180.1,422.8 M174.4,422.8 L180.1,417.2" stroke="#9ccff0" stroke-width="0.9"/>
<path d="M174.1,419.6 L180.4,419.6 L177.2,425.2 Z" fill="#7ab8e8" stroke="#222" stroke-width="0.7"/>
<path d="M174.4,452.5 L180.1,458.1 M174.4,458.1 L180.1,452.5" stroke="#e0c8b0" stroke-width="0.9"/>
<circle cx="177.2" cy="446.5" r="2.9" fill="#8c564b" stroke="#222" stroke-width="0.7"/>
<path d="M174.1,444.1 L180.4,444.1 L177.2,449.7 Z" fill="#c8a090" stroke="#222" stroke-width="0.7"/>
<path d="M252.2,466.1 L257.8,471.7 M252.2,471.7 L257.8,466.1" stroke="#9ccff0" stroke-width="0.9"/>
<path d="M251.8,468.6 L258.2,468.6 L255.0,474.2 Z" fill="#7ab8e8" stroke="#222" stroke-width="0.7"/>
<circle cx="255.0" cy="475.0" r="2.9" fill="#4a8ed4" stroke="#222" stroke-width="0.7"/>
<path d="M252.2,501.8 L257.8,507.4 M252.2,507.4 L257.8,501.8" stroke="#e0c8b0" stroke-width="0.9"/>
<path d="M251.8,497.9 L258.2,497.9 L255.0,503.5 Z" fill="#c8a090" stroke="#222" stroke-width="0.7"/>
<circle cx="255.0" cy="503.6" r="2.9" fill="#8c564b" stroke="#222" stroke-width="0.7"/>
<line x1="92.0" y1="371.4" x2="92.0" y2="585.2" stroke="#a8a8a8" stroke-width="1.7"/>
<line x1="262.9" y1="371.4" x2="262.9" y2="585.2" stroke="#acacac" stroke-width="1.5"/>
<line x1="91.4" y1="371.4" x2="263.5" y2="371.4" stroke="#585858" stroke-width="1.1"/>
<line x1="91.4" y1="585.2" x2="263.5" y2="585.2" stroke="#585858" stroke-width="1.1"/>
<line x1="354.6" y1="370.4" x2="354.6" y2="585.5" stroke="#dcdcdc" stroke-width="0.7" stroke-dasharray="1,1.6"/>
<line x1="393.6" y1="370.4" x2="393.6" y2="585.5" stroke="#dcdcdc" stroke-width="0.7" stroke-dasharray="1,1.6"/>
<line x1="432.5" y1="370.4" x2="432.5" y2="585.5" stroke="#dcdcdc" stroke-width="0.7" stroke-dasharray="1,1.6"/>
<line x1="471.5" y1="370.4" x2="471.5" y2="585.5" stroke="#dcdcdc" stroke-width="0.7" stroke-dasharray="1,1.6"/>
<line x1="510.4" y1="370.4" x2="510.4" y2="585.5" stroke="#dcdcdc" stroke-width="0.7" stroke-dasharray="1,1.6"/>
<line x1="346.6" y1="544.5" x2="518.5" y2="544.5" stroke="#dcdcdc" stroke-width="0.7" stroke-dasharray="1,1.6"/>
<line x1="346.6" y1="503.5" x2="518.5" y2="503.5" stroke="#dcdcdc" stroke-width="0.7" stroke-dasharray="1,1.6"/>
<line x1="346.6" y1="462.5" x2="518.5" y2="462.5" stroke="#dcdcdc" stroke-width="0.7" stroke-dasharray="1,1.6"/>
<line x1="346.6" y1="421.5" x2="518.5" y2="421.5" stroke="#dcdcdc" stroke-width="0.7" stroke-dasharray="1,1.6"/>
<line x1="346.6" y1="380.5" x2="518.5" y2="380.5" stroke="#dcdcdc" stroke-width="0.7" stroke-dasharray="1,1.6"/>
<line x1="344.4" y1="585.5" x2="346.6" y2="585.5" stroke="#333" stroke-width="0.8"/>
<text x="342.2" y="587.9" font-size="7" text-anchor="end" fill="#262626">0.0</text>
<line x1="344.4" y1="544.5" x2="346.6" y2="544.5" stroke="#333" stroke-width="0.8"/>
<text x="342.2" y="546.9" font-size="7" text-anchor="end" fill="#262626">0.2</text>
<line x1="344.4" y1="503.5" x2="346.6" y2="503.5" stroke="#333" stroke-width="0.8"/>
<text x="342.2" y="505.9" font-size="7" text-anchor="end" fill="#262626">0.4</text>
<line x1="344.4" y1="462.5" x2="346.6" y2="462.5" stroke="#333" stroke-width="0.8"/>
<text x="342.2" y="464.9" font-size="7" text-anchor="end" fill="#262626">0.6</text>
<line x1="344.4" y1="421.5" x2="346.6" y2="421.5" stroke="#333" stroke-width="0.8"/>
<text x="342.2" y="423.9" font-size="7" text-anchor="end" fill="#262626">0.8</text>
<line x1="344.4" y1="380.5" x2="346.6" y2="380.5" stroke="#333" stroke-width="0.8"/>
<text x="342.2" y="382.9" font-size="7" text-anchor="end" fill="#262626">1.0</text>
<line x1="354.6" y1="585.5" x2="354.6" y2="587.7" stroke="#333" stroke-width="0.8"/>
<text x="354.6" y="595.1" font-size="7" text-anchor="middle" fill="#262626">0.0</text>
<line x1="393.6" y1="585.5" x2="393.6" y2="587.7" stroke="#333" stroke-width="0.8"/>
<text x="393.6" y="595.1" font-size="7" text-anchor="middle" fill="#262626">0.5</text>
<line x1="432.5" y1="585.5" x2="432.5" y2="587.7" stroke="#333" stroke-width="0.8"/>
<text x="432.5" y="595.1" font-size="7" text-anchor="middle" fill="#262626">1.0</text>
<line x1="471.5" y1="585.5" x2="471.5" y2="587.7" stroke="#333" stroke-width="0.8"/>
<text x="471.5" y="595.1" font-size="7" text-anchor="middle" fill="#262626">1.5</text>
<line x1="510.4" y1="585.5" x2="510.4" y2="587.7" stroke="#333" stroke-width="0.8"/>
<text x="510.4" y="595.1" font-size="7" text-anchor="middle" fill="#262626">2.0</text>
<polyline points="354.6,380.5 360.1,405.7 367.1,410.2 432.5,425.6 510.4,475.4" fill="none" stroke="#2f78b8" stroke-width="1.4" stroke-dasharray="4.7,1.9"/>
<polyline points="354.6,380.5 359.7,407.1 367.1,414.3 432.5,431.8 510.4,491.2" fill="none" stroke="#8c564b" stroke-width="1.4" stroke-dasharray="4.7,1.9"/>
<path d="M356.5,413.6 L362.9,413.6 L359.7,419.2 Z" fill="#c8a090" stroke="#222" stroke-width="0.7"/>
<path d="M356.9,416.6 L362.5,422.2 M356.9,422.2 L362.5,416.6" stroke="#e0c8b0" stroke-width="0.9"/>
<circle cx="359.7" cy="420.5" r="2.9" fill="#8c564b" stroke="#222" stroke-width="0.7"/>
<path d="M363.1,424.8 L368.7,430.4 M363.1,430.4 L368.7,424.8" stroke="#9ccff0" stroke-width="0.9"/>
<path d="M362.7,428.3 L369.1,428.3 L365.9,433.9 Z" fill="#7ab8e8" stroke="#222" stroke-width="0.7"/>
<circle cx="365.9" cy="433.8" r="2.9" fill="#4a8ed4" stroke="#222" stroke-width="0.7"/>
<circle cx="365.9" cy="441.0" r="2.9" fill="#8c564b" stroke="#222" stroke-width="0.7"/>
<path d="M429.7,439.2 L435.3,444.8 M429.7,444.8 L435.3,439.2" stroke="#9ccff0" stroke-width="0.9"/>
<path d="M429.3,440.2 L435.7,440.2 L432.5,445.8 Z" fill="#7ab8e8" stroke="#222" stroke-width="0.7"/>
<path d="M429.3,443.1 L435.7,443.1 L432.5,448.7 Z" fill="#c8a090" stroke="#222" stroke-width="0.7"/>
<path d="M429.7,446.4 L435.3,452.0 M429.7,452.0 L435.3,446.4" stroke="#e0c8b0" stroke-width="0.9"/>
<circle cx="432.5" cy="454.7" r="2.9" fill="#4a8ed4" stroke="#222" stroke-width="0.7"/>
<circle cx="432.5" cy="467.8" r="2.9" fill="#8c564b" stroke="#222" stroke-width="0.7"/>
<path d="M507.2,490.6 L513.6,490.6 L510.4,496.2 Z" fill="#7ab8e8" stroke="#222" stroke-width="0.7"/>
<path d="M507.6,493.3 L513.2,498.9 M507.6,498.9 L513.2,493.3" stroke="#9ccff0" stroke-width="0.9"/>
<circle cx="510.4" cy="496.5" r="2.9" fill="#4a8ed4" stroke="#222" stroke-width="0.7"/>
<path d="M507.2,506.4 L513.6,506.4 L510.4,512.0 Z" fill="#c8a090" stroke="#222" stroke-width="0.7"/>
<circle cx="510.4" cy="512.1" r="2.9" fill="#8c564b" stroke="#222" stroke-width="0.7"/>
<path d="M507.6,515.1 L513.2,520.6 M507.6,520.6 L513.2,515.1" stroke="#e0c8b0" stroke-width="0.9"/>
<line x1="346.6" y1="370.4" x2="346.6" y2="585.5" stroke="#505050" stroke-width="1.1"/>
<line x1="518.5" y1="370.4" x2="518.5" y2="585.5" stroke="#808080" stroke-width="1.1"/>
<line x1="346.0" y1="370.4" x2="519.1" y2="370.4" stroke="#585858" stroke-width="1.1"/>
<line x1="346.0" y1="585.5" x2="519.1" y2="585.5" stroke="#585858" stroke-width="1.1"/>
<text x="154.8" y="367.1" font-size="10.3" textLength="44.8" lengthAdjust="spacingAndGlyphs" fill="#111">VERDICT</text>
<text x="409.6" y="366.9" font-size="10.3" textLength="44.8" lengthAdjust="spacingAndGlyphs" fill="#111">VERDICT</text>
<text x="170.4" y="385.7" font-size="9.6" textLength="90.1" lengthAdjust="spacingAndGlyphs" fill="#4a8cc6">MSE Cancer: 0.0007</text>
<text x="170.4" y="397.4" font-size="9.6" textLength="91.0" lengthAdjust="spacingAndGlyphs" fill="#946052">MSE Normal: 0.0010</text>
<text x="424.9" y="385.0" font-size="9.6" textLength="90.9" lengthAdjust="spacingAndGlyphs" fill="#4a8cc6">MSE Cancer: 0.0092</text>
<text x="424.9" y="396.4" font-size="9.6" textLength="91.4" lengthAdjust="spacingAndGlyphs" fill="#946052">MSE Normal: 0.0090</text>
<text x="177.3" y="604.5" font-size="10.5" text-anchor="middle" fill="#111"><tspan font-style="italic">b</tspan>-value</text>
<text x="432.5" y="604.5" font-size="10.5" text-anchor="middle" fill="#111"><tspan font-style="italic">b</tspan>-value</text>
<text transform="translate(70.6,488.6) rotate(-90)" font-size="10.6" textLength="19" lengthAdjust="spacingAndGlyphs" fill="#111" font-style="italic">S/S<tspan font-size="7" dy="2.3">0</tspan></text>
<text transform="translate(325.6,487.8) rotate(-90)" font-size="10.6" textLength="19" lengthAdjust="spacingAndGlyphs" fill="#111" font-style="italic">S/S<tspan font-size="7" dy="2.3">0</tspan></text>
<text transform="translate(51.8,556.3) rotate(-90)" font-size="17.8" textLength="136.8" lengthAdjust="spacingAndGlyphs" fill="#000" stroke="#000" stroke-width="0.3">High-grade uRCC</text>
<text transform="translate(308.0,533.1) rotate(-90)" font-size="18.2" textLength="102.3" lengthAdjust="spacingAndGlyphs" fill="#000" stroke="#000" stroke-width="0.3">Oncocytoma</text>
<rect x="532.5" y="366.5" width="142" height="90.5" rx="2.5" fill="#fff" stroke="#dcdcdc" stroke-width="0.9"/>
<circle cx="548.5" cy="376.8" r="3.8" fill="#8c564b" stroke="#2a1a16" stroke-width="0.9"/>
<path d="M544.5,390.8 L552.5,390.8 L548.5,398.3 Z" fill="#c8a096" stroke="#2a1a16" stroke-width="0.9" stroke-linejoin="miter"/>
<path d="M544.5,408.6 L552.5,416.6 M544.5,416.6 L552.5,408.6" stroke="#dcc0a8" stroke-width="1"/>
<line x1="537.8" y1="429.0" x2="560" y2="429.0" stroke="#2f78b8" stroke-width="1.4" stroke-dasharray="4.7,1.9"/>
<line x1="537.8" y1="446.9" x2="560" y2="446.9" stroke="#8c564b" stroke-width="1.4" stroke-dasharray="4.7,1.9"/>
<text x="569.4" y="379.8" font-size="12" textLength="24.5" lengthAdjust="spacingAndGlyphs" fill="#1a1a1a">x-dir</text>
<text x="569.4" y="397.6" font-size="12" textLength="24.5" lengthAdjust="spacingAndGlyphs" fill="#1a1a1a">y-dir</text>
<text x="569.4" y="415.4" font-size="12" textLength="23.6" lengthAdjust="spacingAndGlyphs" fill="#1a1a1a">z-dir</text>
<text x="569.4" y="433.2" font-size="12" textLength="99.3" lengthAdjust="spacingAndGlyphs" fill="#1a1a1a">Tumour Prediction</text>
<text x="569.4" y="451.0" font-size="12" textLength="98.1" lengthAdjust="spacingAndGlyphs" fill="#1a1a1a">Normal Prediction</text>
<line x1="682.6" y1="1" x2="682.6" y2="25" stroke="#e6e6e6" stroke-width="1"/>
</svg></body></html>
